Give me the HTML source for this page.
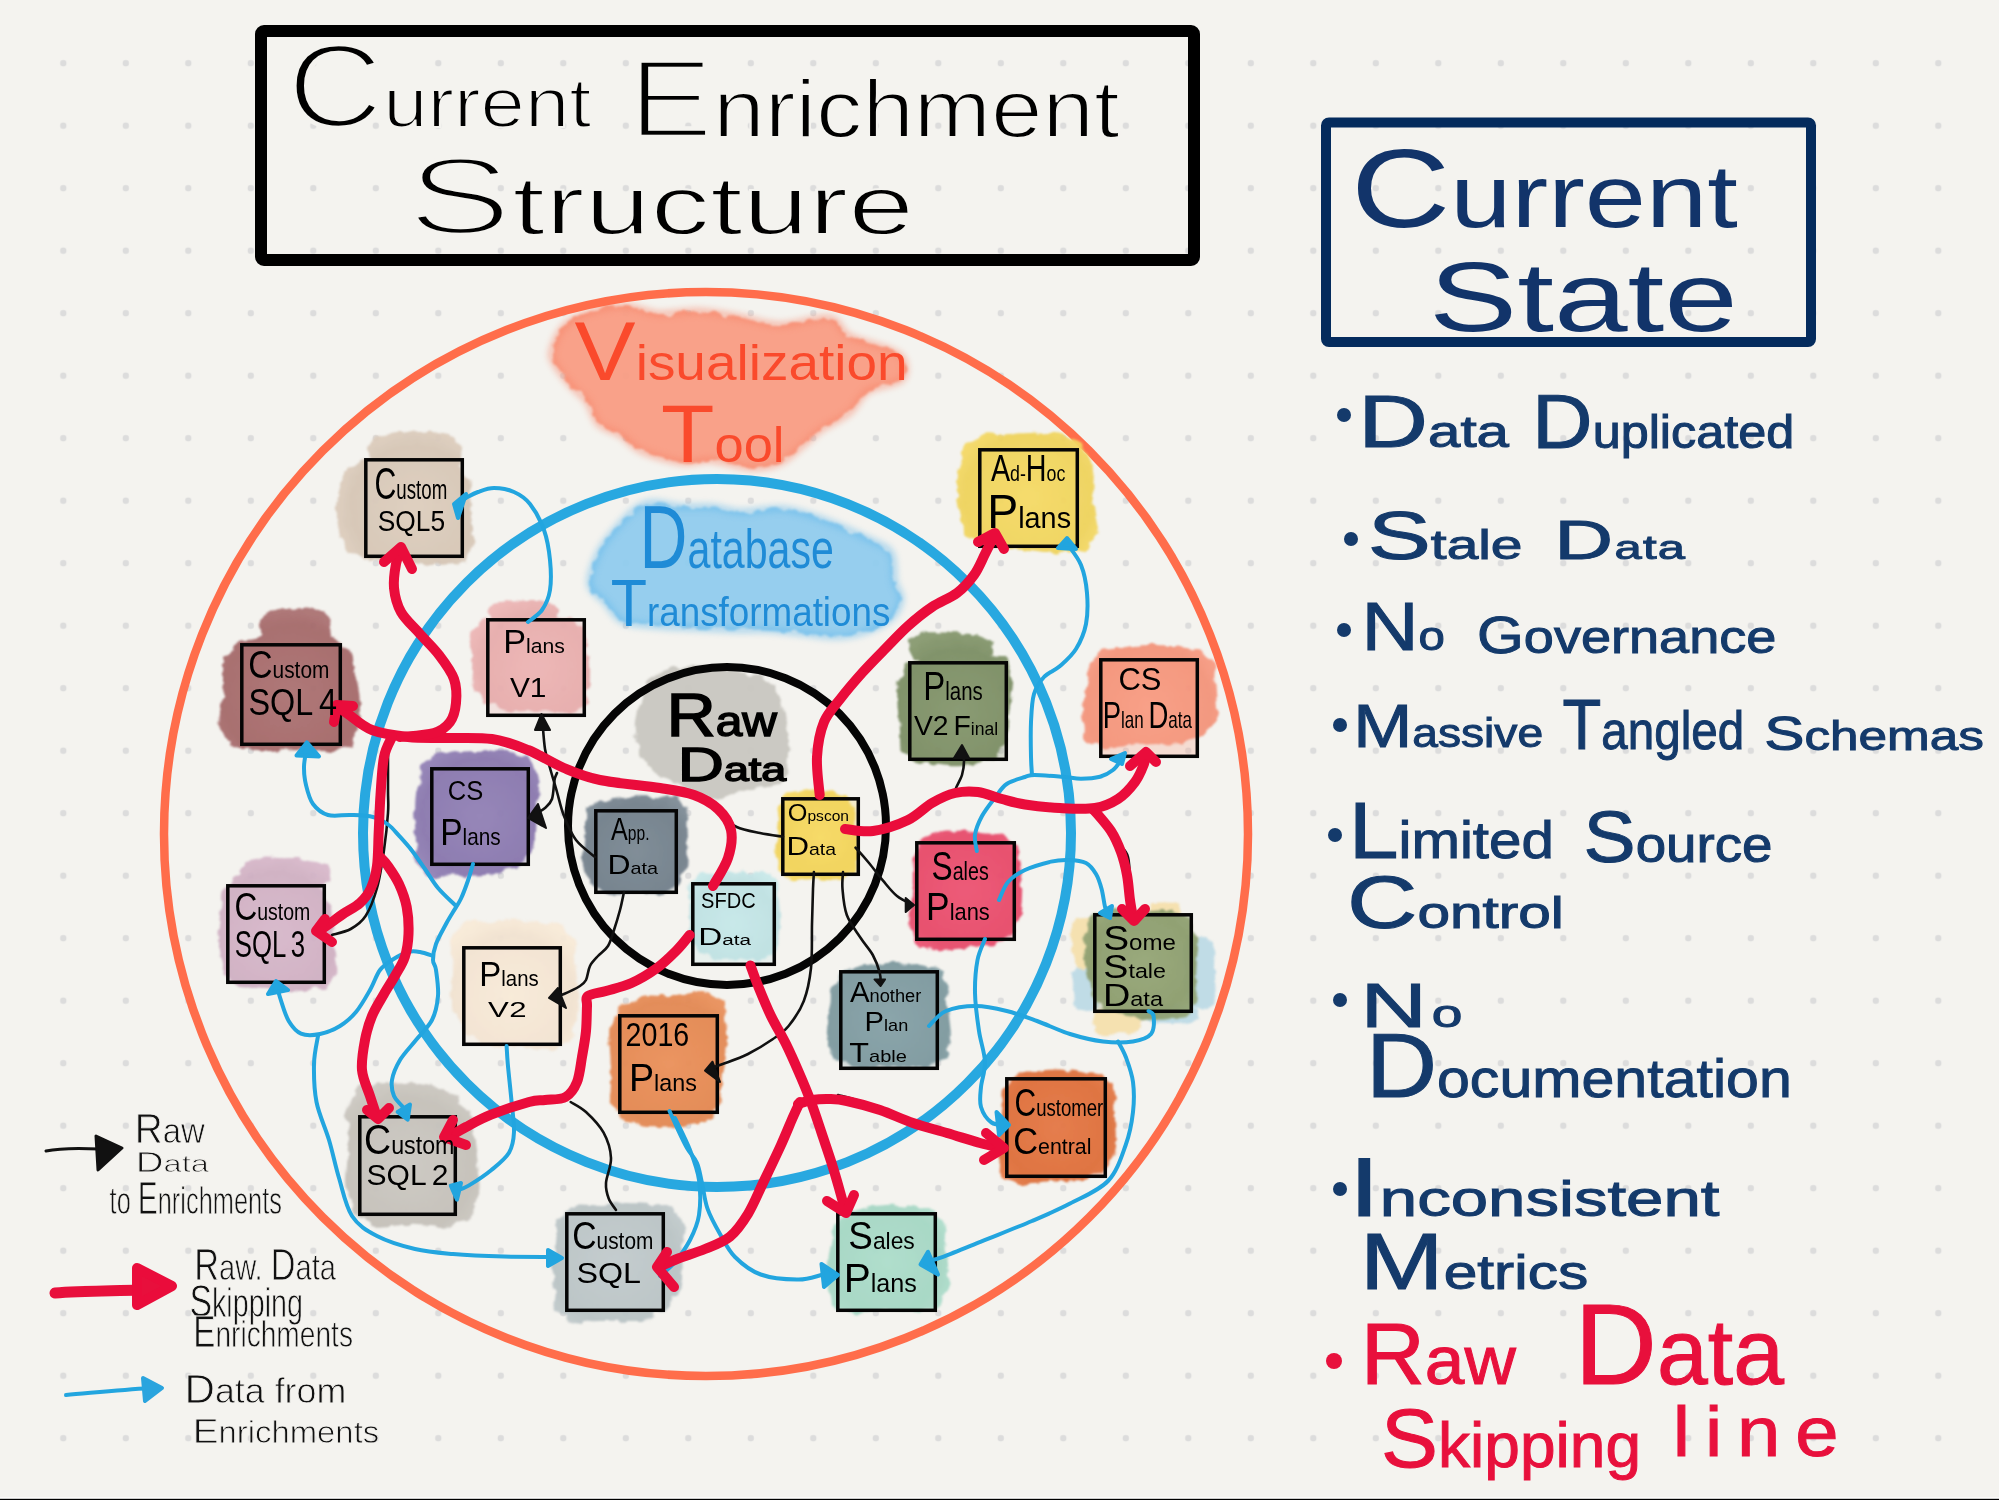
<!DOCTYPE html><html><head><meta charset="utf-8"><style>html,body{margin:0;padding:0;background:#f4f3ef;overflow:hidden}svg{display:block}text{font-family:"Liberation Sans",sans-serif}</style></head><body>
<svg width="1999" height="1500" viewBox="0 0 1999 1500">
<defs>
<pattern id="dots" x="0.8" y="0.7" width="62.5" height="62.5" patternUnits="userSpaceOnUse">
<circle cx="0" cy="0" r="3.2" fill="#dcdcdc"/><circle cx="62.5" cy="0" r="3.2" fill="#dcdcdc"/>
<circle cx="0" cy="62.5" r="3.2" fill="#dcdcdc"/><circle cx="62.5" cy="62.5" r="3.2" fill="#dcdcdc"/>
</pattern>
<filter id="wc" x="-20%" y="-20%" width="140%" height="140%">
<feTurbulence type="fractalNoise" baseFrequency="0.06" numOctaves="3" seed="3" result="n"/>
<feDisplacementMap in="SourceGraphic" in2="n" scale="14" xChannelSelector="R" yChannelSelector="G" result="d"/>
<feGaussianBlur in="d" stdDeviation="1.2"/>
</filter>
<filter id="wc2" x="-20%" y="-20%" width="140%" height="140%">
<feTurbulence type="fractalNoise" baseFrequency="0.035" numOctaves="3" seed="7" result="n"/>
<feDisplacementMap in="SourceGraphic" in2="n" scale="22" xChannelSelector="R" yChannelSelector="G" result="d"/>
<feGaussianBlur in="d" stdDeviation="1.5"/>
</filter>
<filter id="wcb" x="-10%" y="-10%" width="120%" height="120%">
<feTurbulence type="fractalNoise" baseFrequency="0.09" numOctaves="2" seed="5" result="n"/>
<feDisplacementMap in="SourceGraphic" in2="n" scale="9" xChannelSelector="R" yChannelSelector="G" result="d"/>
<feGaussianBlur in="d" stdDeviation="1.3"/>
</filter>
<filter id="wcs" x="-10%" y="-10%" width="120%" height="120%">
<feTurbulence type="fractalNoise" baseFrequency="0.1" numOctaves="2" seed="9" result="n"/>
<feDisplacementMap in="SourceGraphic" in2="n" scale="7" xChannelSelector="R" yChannelSelector="G" result="d"/>
<feGaussianBlur in="d" stdDeviation="1.2"/>
</filter>
<filter id="rim" x="-10%" y="-10%" width="120%" height="120%"><feGaussianBlur stdDeviation="3"/></filter>
<filter id="er2" x="-5%" y="-5%" width="110%" height="110%"><feMorphology operator="erode" radius="2"/></filter>
<filter id="er1" x="-5%" y="-5%" width="110%" height="110%"><feMorphology operator="erode" radius="1"/></filter>
</defs>
<rect width="1999" height="1500" fill="#f4f3ef"/>
<rect x="31" y="31" width="1959" height="1459" fill="url(#dots)"/>
<rect x="0" y="1497.4" width="1999" height="1.4" fill="#ffffff"/><rect x="0" y="1498.8" width="1999" height="1.2" fill="#000"/>
<rect x="261" y="31" width="933" height="229" rx="3" fill="none" stroke="#000" stroke-width="12"/>
<rect x="1326" y="122.5" width="485" height="219.5" rx="3" fill="none" stroke="#042b5d" stroke-width="10"/>
<g filter="url(#wcb)">
<path d="M552.0,350.0 C553.8,343.6 558.7,331.5 565.5,325.0 C572.3,318.5 582.9,314.2 593.0,311.0 C603.1,307.8 615.0,305.5 626.0,306.0 C637.0,306.5 647.1,313.2 659.0,314.0 C670.9,314.8 684.3,310.5 697.6,311.0 C710.9,311.5 725.3,314.7 739.0,317.0 C752.7,319.3 764.9,324.8 780.0,325.0 C795.1,325.2 818.1,316.2 829.6,318.0 C841.1,319.8 838.9,330.7 849.0,336.0 C859.1,341.3 880.8,345.8 890.0,350.0 C899.2,354.2 902.2,356.0 904.0,361.0 C905.8,366.0 907.0,375.0 901.0,380.0 C895.0,385.0 876.7,385.5 868.0,391.0 C859.3,396.5 856.8,406.6 849.0,413.0 C841.2,419.4 828.8,424.1 821.0,429.6 C813.2,435.1 808.8,440.5 802.0,446.0 C795.2,451.5 788.2,458.9 780.0,462.6 C771.8,466.3 764.1,468.4 752.6,468.0 C741.1,467.6 722.4,460.9 711.0,460.0 C699.6,459.1 695.4,464.0 684.0,462.6 C672.6,461.2 653.2,456.2 642.6,451.6 C632.0,447.0 627.9,439.6 620.6,435.0 C613.3,430.4 604.1,429.5 598.6,424.0 C593.1,418.5 592.1,408.4 587.5,402.0 C582.9,395.6 576.5,391.9 571.0,385.5 C565.5,379.1 557.7,369.4 554.5,363.5 C551.3,357.6 550.2,356.4 552.0,350.0Z" fill="#f99a80" opacity="0.92"/>
<path d="M590.0,585.0 C588.6,577.4 593.0,565.5 597.0,556.5 C601.0,547.5 606.1,539.8 614.0,531.0 C621.9,522.2 633.3,508.0 644.6,504.0 C655.9,500.0 670.7,506.5 682.0,507.0 C693.3,507.5 702.7,506.2 712.6,507.0 C722.5,507.8 729.7,511.7 741.6,512.0 C753.5,512.3 769.8,507.5 784.0,509.0 C798.2,510.5 812.4,515.9 826.6,521.0 C840.8,526.1 858.3,534.2 869.0,539.5 C879.7,544.8 886.7,545.9 891.0,553.0 C895.3,560.1 892.9,574.3 894.6,582.0 C896.3,589.7 901.9,592.8 901.0,599.0 C900.1,605.2 896.2,613.8 889.5,619.5 C882.8,625.2 869.7,630.2 860.6,633.0 C851.5,635.8 844.9,636.5 835.0,636.5 C825.1,636.5 812.3,634.1 801.0,633.0 C789.7,631.9 778.3,630.2 767.0,629.7 C755.7,629.2 744.3,630.0 733.0,629.7 C721.7,629.4 711.8,628.6 699.0,628.0 C686.2,627.4 669.2,627.2 656.5,626.0 C643.8,624.8 631.0,624.9 622.5,621.0 C614.0,617.1 610.9,608.4 605.5,602.4 C600.1,596.4 591.4,592.6 590.0,585.0Z" fill="#8dcbee" opacity="0.92"/>
<path d="M643.0,696.7 C646.2,690.2 647.2,680.8 655.0,675.7 C662.8,670.6 676.4,666.8 690.0,666.0 C703.6,665.2 723.1,667.8 736.7,671.0 C750.3,674.2 763.6,676.8 771.7,685.0 C779.9,693.2 782.9,708.3 785.6,720.0 C788.3,731.7 788.8,744.9 788.0,755.0 C787.2,765.1 787.7,774.9 781.0,780.7 C774.3,786.5 759.3,787.0 748.0,790.0 C736.7,793.0 724.2,799.8 713.0,799.0 C701.8,798.2 691.5,790.4 680.7,785.0 C669.9,779.6 655.5,774.4 648.0,766.7 C640.5,759.0 638.0,747.3 636.0,738.7 C634.0,730.1 634.8,722.0 636.0,715.0 C637.2,708.0 639.8,703.2 643.0,696.7Z" fill="#c8c6c0" opacity="0.95"/>
</g>
<g filter="url(#rim)" opacity="0.5">
<path d="M552.0,350.0 C553.8,343.6 558.7,331.5 565.5,325.0 C572.3,318.5 582.9,314.2 593.0,311.0 C603.1,307.8 615.0,305.5 626.0,306.0 C637.0,306.5 647.1,313.2 659.0,314.0 C670.9,314.8 684.3,310.5 697.6,311.0 C710.9,311.5 725.3,314.7 739.0,317.0 C752.7,319.3 764.9,324.8 780.0,325.0 C795.1,325.2 818.1,316.2 829.6,318.0 C841.1,319.8 838.9,330.7 849.0,336.0 C859.1,341.3 880.8,345.8 890.0,350.0 C899.2,354.2 902.2,356.0 904.0,361.0 C905.8,366.0 907.0,375.0 901.0,380.0 C895.0,385.0 876.7,385.5 868.0,391.0 C859.3,396.5 856.8,406.6 849.0,413.0 C841.2,419.4 828.8,424.1 821.0,429.6 C813.2,435.1 808.8,440.5 802.0,446.0 C795.2,451.5 788.2,458.9 780.0,462.6 C771.8,466.3 764.1,468.4 752.6,468.0 C741.1,467.6 722.4,460.9 711.0,460.0 C699.6,459.1 695.4,464.0 684.0,462.6 C672.6,461.2 653.2,456.2 642.6,451.6 C632.0,447.0 627.9,439.6 620.6,435.0 C613.3,430.4 604.1,429.5 598.6,424.0 C593.1,418.5 592.1,408.4 587.5,402.0 C582.9,395.6 576.5,391.9 571.0,385.5 C565.5,379.1 557.7,369.4 554.5,363.5 C551.3,357.6 550.2,356.4 552.0,350.0Z" fill="none" stroke="#f77f62" stroke-width="6"/>
<path d="M590.0,585.0 C588.6,577.4 593.0,565.5 597.0,556.5 C601.0,547.5 606.1,539.8 614.0,531.0 C621.9,522.2 633.3,508.0 644.6,504.0 C655.9,500.0 670.7,506.5 682.0,507.0 C693.3,507.5 702.7,506.2 712.6,507.0 C722.5,507.8 729.7,511.7 741.6,512.0 C753.5,512.3 769.8,507.5 784.0,509.0 C798.2,510.5 812.4,515.9 826.6,521.0 C840.8,526.1 858.3,534.2 869.0,539.5 C879.7,544.8 886.7,545.9 891.0,553.0 C895.3,560.1 892.9,574.3 894.6,582.0 C896.3,589.7 901.9,592.8 901.0,599.0 C900.1,605.2 896.2,613.8 889.5,619.5 C882.8,625.2 869.7,630.2 860.6,633.0 C851.5,635.8 844.9,636.5 835.0,636.5 C825.1,636.5 812.3,634.1 801.0,633.0 C789.7,631.9 778.3,630.2 767.0,629.7 C755.7,629.2 744.3,630.0 733.0,629.7 C721.7,629.4 711.8,628.6 699.0,628.0 C686.2,627.4 669.2,627.2 656.5,626.0 C643.8,624.8 631.0,624.9 622.5,621.0 C614.0,617.1 610.9,608.4 605.5,602.4 C600.1,596.4 591.4,592.6 590.0,585.0Z" fill="none" stroke="#5bb5ea" stroke-width="6"/>
</g>
<circle cx="706" cy="834" r="542" fill="none" stroke="#ff6d4b" stroke-width="8.5"/>
<circle cx="717" cy="833" r="354" fill="none" stroke="#28a8e0" stroke-width="10"/>
<circle cx="727" cy="826" r="159" fill="none" stroke="#050505" stroke-width="8"/>
<defs><radialGradient id="bg0" gradientUnits="userSpaceOnUse" cx="414.0" cy="508.0" r="82.8"><stop offset="0" stop-color="#decfc0"/><stop offset="0.75" stop-color="#d5c5b5"/><stop offset="1" stop-color="#decebf"/></radialGradient><radialGradient id="bg1" gradientUnits="userSpaceOnUse" cx="291.0" cy="694.5" r="91.2"><stop offset="0" stop-color="#ae7576"/><stop offset="0.75" stop-color="#a36869"/><stop offset="1" stop-color="#ad7475"/></radialGradient><radialGradient id="bg2" gradientUnits="userSpaceOnUse" cx="276.0" cy="934.0" r="81.6"><stop offset="0" stop-color="#d8b9cc"/><stop offset="0.75" stop-color="#cfafc2"/><stop offset="1" stop-color="#d8b8cb"/></radialGradient><radialGradient id="bg3" gradientUnits="userSpaceOnUse" cx="407.5" cy="1165.5" r="87.6"><stop offset="0" stop-color="#cdc9c3"/><stop offset="0.75" stop-color="#c3bfb8"/><stop offset="1" stop-color="#ccc8c2"/></radialGradient><radialGradient id="bg4" gradientUnits="userSpaceOnUse" cx="615.0" cy="1262.0" r="81.6"><stop offset="0" stop-color="#c3ccce"/><stop offset="0.75" stop-color="#b8c2c4"/><stop offset="1" stop-color="#c2cbcd"/></radialGradient><radialGradient id="bg5" gradientUnits="userSpaceOnUse" cx="886.5" cy="1262.0" r="71.4"><stop offset="0" stop-color="#afdecd"/><stop offset="0.75" stop-color="#a4d5c3"/><stop offset="1" stop-color="#aedecc"/></radialGradient><radialGradient id="bg6" gradientUnits="userSpaceOnUse" cx="536.0" cy="667.5" r="72.6"><stop offset="0" stop-color="#edb6b6"/><stop offset="0.75" stop-color="#e5acac"/><stop offset="1" stop-color="#edb6b6"/></radialGradient><radialGradient id="bg7" gradientUnits="userSpaceOnUse" cx="480.0" cy="816.5" r="78.0"><stop offset="0" stop-color="#9483b7"/><stop offset="0.75" stop-color="#8876ad"/><stop offset="1" stop-color="#9382b7"/></radialGradient><radialGradient id="bg8" gradientUnits="userSpaceOnUse" cx="512.0" cy="996.0" r="80.4"><stop offset="0" stop-color="#f8ebd9"/><stop offset="0.75" stop-color="#f1e2d0"/><stop offset="1" stop-color="#f8ead8"/></radialGradient><radialGradient id="bg9" gradientUnits="userSpaceOnUse" cx="668.5" cy="1064.0" r="82.8"><stop offset="0" stop-color="#eb925e"/><stop offset="0.75" stop-color="#e28650"/><stop offset="1" stop-color="#ea915c"/></radialGradient><radialGradient id="bg10" gradientUnits="userSpaceOnUse" cx="636.0" cy="851.5" r="63.0"><stop offset="0" stop-color="#7e8b96"/><stop offset="0.75" stop-color="#717e8a"/><stop offset="1" stop-color="#7c8a95"/></radialGradient><radialGradient id="bg11" gradientUnits="userSpaceOnUse" cx="820.5" cy="836.5" r="53.4"><stop offset="0" stop-color="#f7da66"/><stop offset="0.75" stop-color="#efd157"/><stop offset="1" stop-color="#f7d964"/></radialGradient><radialGradient id="bg12" gradientUnits="userSpaceOnUse" cx="733.5" cy="924.0" r="57.6"><stop offset="0" stop-color="#c7e8ea"/><stop offset="0.75" stop-color="#bddfe1"/><stop offset="1" stop-color="#c7e8e9"/></radialGradient><radialGradient id="bg13" gradientUnits="userSpaceOnUse" cx="958.0" cy="711.0" r="81.0"><stop offset="0" stop-color="#879971"/><stop offset="0.75" stop-color="#7a8d63"/><stop offset="1" stop-color="#86986f"/></radialGradient><radialGradient id="bg14" gradientUnits="userSpaceOnUse" cx="965.5" cy="891.0" r="75.0"><stop offset="0" stop-color="#ed5776"/><stop offset="0.75" stop-color="#e54869"/><stop offset="1" stop-color="#ed5575"/></radialGradient><radialGradient id="bg15" gradientUnits="userSpaceOnUse" cx="889.0" cy="1020.0" r="79.8"><stop offset="0" stop-color="#88a3a9"/><stop offset="0.75" stop-color="#7b979d"/><stop offset="1" stop-color="#87a2a8"/></radialGradient><radialGradient id="bg16" gradientUnits="userSpaceOnUse" cx="1028.5" cy="498.0" r="84.0"><stop offset="0" stop-color="#f6db69"/><stop offset="0.75" stop-color="#eed25b"/><stop offset="1" stop-color="#f6da68"/></radialGradient><radialGradient id="bg17" gradientUnits="userSpaceOnUse" cx="1149.0" cy="708.0" r="82.8"><stop offset="0" stop-color="#f99e86"/><stop offset="0.75" stop-color="#f29279"/><stop offset="1" stop-color="#f99d85"/></radialGradient><radialGradient id="bg18" gradientUnits="userSpaceOnUse" cx="1143.0" cy="963.0" r="68.4"><stop offset="0" stop-color="#97a87a"/><stop offset="0.75" stop-color="#8b9c6d"/><stop offset="1" stop-color="#96a779"/></radialGradient><radialGradient id="bg19" gradientUnits="userSpaceOnUse" cx="1056.0" cy="1127.5" r="72.0"><stop offset="0" stop-color="#e57b4a"/><stop offset="0.75" stop-color="#dc6e3a"/><stop offset="1" stop-color="#e57a48"/></radialGradient></defs>
<g filter="url(#wcs)" opacity="0.8">
<path d="M1101.7,943.5 C1101.7,947.3 1102.0,952.2 1102.0,954.9 C1102.1,957.5 1102.1,958.4 1101.8,959.6 C1101.6,960.8 1101.0,961.3 1100.7,962.1 C1100.4,962.9 1100.1,963.5 1099.9,964.3 C1099.6,965.2 1099.7,966.4 1099.4,967.1 C1099.1,967.8 1098.7,968.2 1098.2,968.4 C1097.7,968.7 1097.0,968.4 1096.4,968.6 C1095.9,968.9 1095.5,969.5 1094.9,969.9 C1094.3,970.4 1094.1,971.1 1092.8,971.2 C1091.5,971.3 1088.9,970.7 1087.0,970.5 C1085.1,970.2 1082.9,969.6 1081.6,969.5 C1080.2,969.4 1079.8,969.8 1079.1,969.8 C1078.4,969.7 1077.9,969.5 1077.4,968.9 C1077.0,968.4 1076.9,967.2 1076.6,966.6 C1076.3,965.9 1076.0,965.5 1075.6,965.1 C1075.3,964.6 1074.6,964.6 1074.3,964.0 C1074.0,963.5 1073.9,962.5 1073.7,961.5 C1073.6,960.5 1073.7,959.3 1073.5,958.1 C1073.3,956.9 1072.9,956.8 1072.6,954.4 C1072.3,952.0 1071.9,947.2 1071.8,943.5 C1071.7,939.8 1071.9,934.8 1072.0,932.2 C1072.1,929.5 1072.3,929.0 1072.3,927.6 C1072.3,926.1 1072.1,924.5 1072.1,923.4 C1072.2,922.2 1072.5,921.2 1072.8,920.6 C1073.2,919.9 1073.9,920.0 1074.4,919.6 C1074.9,919.2 1075.3,918.8 1075.7,918.3 C1076.1,917.9 1076.4,917.1 1077.0,916.9 C1077.6,916.7 1078.4,917.1 1079.2,917.4 C1080.0,917.6 1080.4,918.3 1081.8,918.4 C1083.1,918.5 1085.2,918.1 1087.0,918.0 C1088.8,917.9 1091.2,917.6 1092.4,917.8 C1093.6,918.0 1093.7,918.8 1094.3,919.2 C1094.9,919.5 1095.3,919.8 1095.9,919.9 C1096.5,919.9 1097.2,919.4 1097.8,919.5 C1098.3,919.6 1098.8,920.0 1099.1,920.5 C1099.4,921.1 1099.5,922.1 1099.8,922.8 C1100.1,923.5 1100.5,923.9 1100.9,924.7 C1101.3,925.4 1101.8,926.0 1102.0,927.2 C1102.2,928.5 1102.1,929.4 1102.0,932.1 C1102.0,934.8 1101.8,939.7 1101.7,943.5Z" fill="#f5dca0"/>
<path d="M1141.0,1021.0 C1141.1,1022.7 1141.5,1024.9 1141.3,1026.0 C1141.1,1027.2 1140.4,1027.3 1139.8,1027.8 C1139.3,1028.2 1138.6,1028.5 1138.3,1028.9 C1137.9,1029.3 1138.0,1029.8 1137.7,1030.2 C1137.4,1030.6 1137.1,1030.9 1136.4,1031.1 C1135.8,1031.3 1134.7,1031.2 1134.0,1031.4 C1133.2,1031.5 1132.7,1031.7 1132.1,1032.0 C1131.4,1032.2 1131.1,1032.8 1130.2,1033.0 C1129.2,1033.2 1128.7,1033.3 1126.5,1033.4 C1124.3,1033.4 1120.2,1033.3 1117.0,1033.3 C1113.8,1033.4 1109.5,1033.8 1107.1,1033.9 C1104.7,1034.1 1103.7,1034.3 1102.4,1034.3 C1101.2,1034.2 1100.5,1033.9 1099.7,1033.6 C1098.8,1033.4 1098.3,1033.1 1097.5,1032.9 C1096.8,1032.7 1095.7,1032.7 1095.0,1032.4 C1094.4,1032.1 1094.0,1031.8 1093.8,1031.3 C1093.7,1030.8 1094.1,1030.0 1094.2,1029.5 C1094.2,1028.9 1094.1,1028.4 1094.0,1027.8 C1093.8,1027.2 1093.3,1027.0 1093.3,1025.9 C1093.4,1024.8 1093.8,1022.6 1094.2,1021.0 C1094.5,1019.4 1095.2,1017.6 1095.4,1016.5 C1095.6,1015.5 1095.3,1015.2 1095.2,1014.6 C1095.2,1014.0 1095.0,1013.4 1095.3,1012.9 C1095.5,1012.5 1096.3,1012.3 1096.8,1012.0 C1097.2,1011.7 1097.6,1011.5 1097.9,1011.1 C1098.2,1010.7 1098.1,1010.1 1098.5,1009.7 C1098.9,1009.3 1099.6,1009.1 1100.4,1008.9 C1101.3,1008.8 1102.5,1008.9 1103.6,1008.8 C1104.8,1008.7 1105.1,1008.5 1107.3,1008.3 C1109.5,1008.1 1113.7,1007.8 1117.0,1007.8 C1120.3,1007.7 1124.6,1008.0 1126.8,1008.2 C1129.1,1008.3 1129.3,1008.7 1130.4,1008.8 C1131.5,1008.9 1132.7,1008.8 1133.7,1008.9 C1134.6,1008.9 1135.6,1009.0 1136.2,1009.3 C1136.8,1009.6 1136.9,1010.1 1137.2,1010.5 C1137.6,1010.8 1138.0,1011.2 1138.5,1011.5 C1139.1,1011.8 1140.0,1011.9 1140.5,1012.3 C1140.9,1012.7 1141.0,1013.2 1141.1,1013.9 C1141.1,1014.5 1140.6,1014.9 1140.5,1016.1 C1140.5,1017.3 1140.8,1019.3 1141.0,1021.0Z" fill="#f5dca0"/>
<path d="M1180.0,909.5 C1180.1,910.3 1179.9,911.5 1179.7,912.0 C1179.6,912.6 1179.1,912.7 1179.0,913.0 C1178.8,913.2 1179.0,913.5 1178.9,913.8 C1178.8,914.1 1178.9,914.4 1178.6,914.5 C1178.4,914.7 1177.8,914.8 1177.4,914.9 C1177.0,915.0 1176.5,915.0 1176.1,915.1 C1175.7,915.3 1175.6,915.5 1175.1,915.6 C1174.6,915.7 1174.0,915.8 1173.3,915.8 C1172.5,915.8 1172.0,915.6 1170.6,915.6 C1169.2,915.5 1166.9,915.5 1165.0,915.5 C1163.1,915.6 1160.6,915.7 1159.4,915.6 C1158.1,915.6 1157.9,915.4 1157.4,915.3 C1156.9,915.2 1156.6,914.9 1156.2,914.8 C1155.7,914.8 1155.2,914.8 1154.7,914.7 C1154.2,914.7 1153.7,914.7 1153.3,914.6 C1153.0,914.4 1153.0,914.2 1152.8,914.0 C1152.5,913.8 1152.3,913.7 1152.0,913.5 C1151.6,913.4 1150.9,913.3 1150.6,913.1 C1150.2,912.8 1150.0,912.7 1149.9,912.1 C1149.8,911.5 1150.1,910.4 1150.0,909.5 C1150.0,908.6 1149.8,907.5 1149.7,906.9 C1149.6,906.2 1149.3,906.0 1149.4,905.7 C1149.5,905.3 1150.0,905.2 1150.4,905.0 C1150.7,904.8 1151.3,904.7 1151.6,904.6 C1152.0,904.4 1152.1,904.2 1152.4,904.0 C1152.7,903.9 1153.1,903.8 1153.7,903.7 C1154.2,903.7 1155.0,903.8 1155.7,903.8 C1156.3,903.8 1156.9,903.9 1157.5,903.8 C1158.2,903.8 1158.3,903.6 1159.5,903.5 C1160.8,903.5 1163.2,903.5 1165.0,903.6 C1166.8,903.6 1168.9,903.8 1170.2,903.8 C1171.5,903.9 1171.8,903.8 1172.6,903.7 C1173.3,903.7 1174.1,903.6 1174.6,903.6 C1175.2,903.7 1175.5,903.9 1175.8,904.0 C1176.2,904.1 1176.4,904.3 1176.8,904.4 C1177.2,904.5 1177.9,904.5 1178.2,904.6 C1178.6,904.7 1179.0,904.9 1179.1,905.1 C1179.3,905.4 1179.1,905.7 1179.1,906.0 C1179.1,906.3 1179.2,906.4 1179.4,907.0 C1179.6,907.6 1180.0,908.7 1180.0,909.5Z" fill="#f5dca0"/>
<path d="M1215.0,971.5 C1215.0,976.1 1215.2,982.0 1215.3,985.4 C1215.4,988.7 1215.6,990.0 1215.4,991.6 C1215.3,993.2 1214.8,994.1 1214.5,995.2 C1214.2,996.3 1213.9,997.0 1213.7,998.2 C1213.5,999.3 1213.6,1001.0 1213.4,1002.1 C1213.2,1003.2 1212.9,1004.2 1212.4,1004.7 C1211.9,1005.2 1211.2,1004.9 1210.6,1005.3 C1210.0,1005.6 1209.5,1006.3 1208.8,1006.8 C1208.1,1007.4 1208.0,1008.6 1206.5,1008.8 C1205.0,1009.0 1202.1,1008.4 1200.0,1008.0 C1197.9,1007.6 1195.4,1006.5 1194.0,1006.2 C1192.5,1005.8 1192.2,1006.0 1191.4,1005.8 C1190.7,1005.5 1190.1,1005.4 1189.6,1004.6 C1189.2,1003.8 1189.2,1002.2 1188.9,1001.2 C1188.7,1000.1 1188.5,999.1 1188.2,998.4 C1187.9,997.6 1187.3,997.5 1187.0,996.8 C1186.7,996.0 1186.5,994.9 1186.4,993.7 C1186.3,992.4 1186.5,990.8 1186.3,989.3 C1186.2,987.8 1185.8,987.6 1185.5,984.6 C1185.2,981.7 1184.7,976.0 1184.5,971.5 C1184.3,967.0 1184.4,960.7 1184.5,957.4 C1184.5,954.1 1184.8,953.5 1184.7,951.7 C1184.7,949.8 1184.4,947.8 1184.4,946.2 C1184.4,944.5 1184.5,942.9 1184.8,941.9 C1185.1,940.9 1185.8,940.7 1186.3,940.1 C1186.7,939.6 1187.2,939.1 1187.6,938.4 C1188.1,937.8 1188.3,936.5 1188.9,936.1 C1189.5,935.7 1190.3,935.8 1191.1,936.0 C1192.0,936.3 1192.6,937.3 1194.1,937.5 C1195.6,937.8 1198.0,937.5 1200.0,937.5 C1202.0,937.4 1204.6,936.9 1206.0,937.2 C1207.3,937.4 1207.5,938.5 1208.1,939.1 C1208.7,939.7 1209.0,940.6 1209.6,940.9 C1210.1,941.3 1210.8,940.8 1211.4,941.1 C1211.9,941.3 1212.4,941.7 1212.7,942.5 C1213.0,943.3 1213.0,944.8 1213.2,945.8 C1213.4,946.8 1213.7,947.6 1214.1,948.6 C1214.4,949.6 1215.0,950.2 1215.2,951.7 C1215.4,953.2 1215.4,954.2 1215.4,957.5 C1215.3,960.8 1215.0,966.9 1215.0,971.5Z" fill="#b3d6e4"/>
<path d="M1096.7,990.0 C1096.8,992.7 1097.2,996.3 1097.3,998.3 C1097.5,1000.4 1097.8,1001.2 1097.8,1002.3 C1097.8,1003.4 1097.4,1004.0 1097.3,1004.8 C1097.1,1005.6 1096.9,1006.2 1096.8,1007.0 C1096.6,1007.8 1096.7,1008.9 1096.5,1009.5 C1096.3,1010.1 1096.0,1010.6 1095.5,1010.9 C1095.0,1011.1 1094.3,1010.8 1093.8,1010.8 C1093.2,1010.9 1092.8,1011.1 1092.2,1011.3 C1091.6,1011.5 1091.3,1012.0 1090.2,1011.9 C1089.0,1011.9 1086.6,1011.4 1085.0,1011.0 C1083.4,1010.6 1081.5,1010.0 1080.4,1009.8 C1079.2,1009.5 1079.0,1009.8 1078.4,1009.7 C1077.8,1009.6 1077.3,1009.6 1076.9,1009.2 C1076.5,1008.9 1076.4,1008.1 1076.1,1007.6 C1075.8,1007.2 1075.6,1006.8 1075.3,1006.5 C1074.9,1006.2 1074.3,1006.3 1074.0,1005.9 C1073.7,1005.5 1073.5,1004.9 1073.3,1004.1 C1073.2,1003.3 1073.3,1002.3 1073.2,1001.4 C1073.1,1000.4 1072.9,1000.2 1072.7,998.3 C1072.5,996.4 1072.1,992.8 1072.1,990.0 C1072.0,987.2 1072.3,983.5 1072.4,981.5 C1072.6,979.6 1072.9,979.4 1073.0,978.4 C1073.0,977.4 1072.9,976.3 1072.9,975.4 C1073.0,974.6 1073.1,973.7 1073.3,973.2 C1073.6,972.6 1074.1,972.6 1074.5,972.2 C1074.8,971.8 1075.1,971.4 1075.4,970.9 C1075.7,970.4 1075.8,969.4 1076.2,969.0 C1076.6,968.6 1077.1,968.5 1077.7,968.5 C1078.4,968.4 1078.8,968.8 1080.0,968.8 C1081.2,968.7 1083.3,968.4 1085.0,968.2 C1086.7,968.1 1089.0,967.7 1090.2,967.9 C1091.4,968.1 1091.5,968.8 1092.0,969.3 C1092.5,969.7 1092.7,970.4 1093.1,970.7 C1093.5,971.0 1094.1,971.0 1094.4,971.3 C1094.8,971.7 1095.0,972.1 1095.2,972.8 C1095.3,973.4 1095.2,974.5 1095.3,975.2 C1095.4,975.9 1095.5,976.4 1095.7,977.0 C1096.0,977.6 1096.4,978.0 1096.6,978.8 C1096.8,979.7 1096.8,980.2 1096.8,982.1 C1096.8,983.9 1096.6,987.3 1096.7,990.0Z" fill="#b3d6e4"/>
<path d="M1197.8,1014.5 C1197.9,1015.7 1198.6,1017.3 1198.7,1018.1 C1198.8,1019.0 1198.9,1019.2 1198.5,1019.6 C1198.2,1020.0 1197.1,1020.2 1196.6,1020.5 C1196.1,1020.8 1195.7,1021.1 1195.5,1021.4 C1195.2,1021.7 1195.4,1022.1 1194.9,1022.4 C1194.5,1022.7 1193.6,1022.8 1192.7,1022.9 C1191.8,1023.0 1190.5,1023.0 1189.5,1023.1 C1188.5,1023.3 1187.9,1023.6 1186.6,1023.7 C1185.4,1023.9 1185.0,1024.2 1182.3,1024.3 C1179.5,1024.3 1174.0,1024.1 1170.0,1024.1 C1166.0,1024.0 1161.1,1023.8 1158.3,1023.8 C1155.5,1023.8 1154.6,1023.9 1153.2,1023.9 C1151.7,1023.8 1150.6,1023.7 1149.9,1023.4 C1149.1,1023.2 1149.0,1022.8 1148.5,1022.5 C1148.0,1022.2 1147.5,1022.0 1146.9,1021.8 C1146.3,1021.6 1145.3,1021.5 1144.9,1021.3 C1144.6,1021.0 1144.7,1020.6 1144.7,1020.2 C1144.7,1019.9 1145.1,1019.4 1144.9,1019.0 C1144.7,1018.6 1143.9,1018.6 1143.5,1017.8 C1143.1,1017.1 1142.4,1015.6 1142.2,1014.5 C1142.1,1013.4 1142.7,1011.9 1142.7,1011.1 C1142.8,1010.2 1142.9,1010.1 1142.7,1009.6 C1142.6,1009.1 1141.8,1008.5 1141.7,1008.1 C1141.7,1007.7 1141.9,1007.3 1142.4,1007.0 C1142.9,1006.8 1144.0,1006.7 1144.7,1006.5 C1145.3,1006.3 1145.8,1006.0 1146.4,1005.7 C1147.1,1005.5 1147.6,1005.2 1148.7,1005.0 C1149.8,1004.9 1151.4,1005.0 1153.0,1005.0 C1154.6,1005.1 1155.6,1005.3 1158.4,1005.3 C1161.3,1005.3 1166.1,1005.2 1170.0,1005.2 C1173.9,1005.2 1179.0,1005.1 1181.6,1005.3 C1184.2,1005.4 1184.3,1005.8 1185.4,1005.9 C1186.5,1006.1 1187.3,1006.3 1188.3,1006.4 C1189.3,1006.5 1190.7,1006.4 1191.6,1006.5 C1192.4,1006.6 1193.0,1006.8 1193.5,1007.1 C1194.0,1007.3 1193.9,1007.7 1194.3,1007.9 C1194.8,1008.2 1195.6,1008.3 1196.2,1008.6 C1196.9,1008.8 1197.9,1009.0 1198.2,1009.4 C1198.5,1009.8 1198.2,1010.1 1198.1,1011.0 C1198.0,1011.8 1197.7,1013.3 1197.8,1014.5Z" fill="#b3d6e4"/>
</g>
<g filter="url(#wcs)">
<g opacity="0.94">
<path d="M470.5,511.5 C471.0,518.8 472.8,528.4 473.4,533.8 C474.1,539.2 474.9,541.2 474.4,543.9 C474.0,546.6 471.9,548.0 470.8,549.9 C469.7,551.8 468.6,553.3 467.8,555.2 C466.9,557.0 467.1,559.6 465.7,561.0 C464.3,562.4 462.0,563.1 459.5,563.4 C456.9,563.7 453.3,562.8 450.5,562.9 C447.7,563.0 445.5,563.7 442.5,564.0 C439.5,564.4 438.2,565.4 432.3,565.1 C426.4,564.9 415.0,563.4 407.0,562.5 C399.0,561.7 389.6,560.3 384.1,560.0 C378.6,559.6 376.9,560.6 373.9,560.5 C370.9,560.5 368.2,560.5 366.1,559.8 C364.1,559.1 363.4,557.2 361.7,556.3 C360.0,555.5 358.2,555.0 356.0,554.5 C353.8,554.1 350.4,554.4 348.5,553.5 C346.6,552.6 345.6,550.9 344.7,549.0 C343.8,547.1 344.2,544.6 343.3,542.1 C342.5,539.6 340.6,539.2 339.5,534.1 C338.5,529.0 336.9,519.0 336.9,511.5 C336.9,504.0 338.6,494.0 339.5,488.8 C340.4,483.7 341.9,483.1 342.5,480.5 C343.1,477.9 342.5,475.1 343.2,473.1 C343.9,471.1 345.1,469.3 346.9,468.3 C348.6,467.2 351.8,467.4 353.8,466.6 C355.8,465.9 357.2,464.9 358.8,463.8 C360.4,462.7 361.2,460.7 363.4,460.0 C365.5,459.2 368.6,459.4 371.8,459.4 C375.0,459.5 376.9,460.4 382.8,460.2 C388.6,460.0 398.7,458.8 407.0,458.3 C415.3,457.8 426.8,457.0 432.6,457.3 C438.3,457.6 439.0,459.3 441.7,460.2 C444.3,461.1 446.0,462.1 448.4,462.6 C450.8,463.1 453.9,462.5 455.9,463.2 C457.9,463.8 459.4,465.0 460.4,466.5 C461.4,467.9 461.0,470.5 461.8,472.1 C462.7,473.7 464.1,474.8 465.5,476.3 C466.9,477.8 469.3,478.8 470.2,481.1 C471.0,483.4 470.7,485.0 470.7,490.1 C470.8,495.2 470.1,504.2 470.5,511.5Z" fill="url(#bg0)"/>
<path d="M461.3,452.5 C461.2,454.2 461.5,456.2 461.7,457.7 C462.0,459.2 462.9,460.5 462.6,461.7 C462.3,462.9 461.1,463.8 460.0,464.8 C459.0,465.7 457.3,466.3 456.2,467.2 C455.2,468.1 454.8,469.2 453.6,470.0 C452.5,470.9 451.2,471.8 449.3,472.3 C447.5,472.8 444.7,472.7 442.4,472.9 C440.1,473.1 437.8,473.2 435.4,473.4 C433.0,473.7 431.1,474.3 428.1,474.4 C425.0,474.5 420.5,474.3 417.0,473.9 C413.5,473.6 409.8,472.7 407.0,472.4 C404.1,472.0 402.3,471.9 400.1,471.7 C397.9,471.5 395.5,471.6 393.8,471.2 C392.0,470.8 390.8,470.0 389.4,469.4 C388.1,468.8 387.2,468.0 385.7,467.5 C384.1,467.0 381.8,466.8 380.1,466.3 C378.4,465.8 376.6,465.2 375.5,464.3 C374.4,463.5 374.4,462.3 373.7,461.2 C373.0,460.1 372.2,459.3 371.3,457.8 C370.4,456.3 368.6,454.3 368.1,452.5 C367.6,450.7 367.9,448.4 368.5,446.9 C369.0,445.3 370.6,444.5 371.4,443.3 C372.2,442.2 372.4,441.0 373.2,440.0 C373.9,439.0 374.4,437.8 375.8,437.1 C377.2,436.3 379.7,436.0 381.7,435.6 C383.7,435.2 385.9,435.0 387.7,434.5 C389.5,434.1 390.7,433.3 392.5,432.8 C394.4,432.4 396.5,432.0 398.9,431.9 C401.3,431.9 403.8,432.3 406.8,432.4 C409.8,432.4 413.5,432.3 417.0,432.1 C420.5,432.0 424.7,431.4 427.7,431.4 C430.6,431.4 432.7,431.8 434.9,432.2 C437.0,432.6 438.4,433.3 440.4,433.7 C442.3,434.1 444.5,434.1 446.5,434.5 C448.4,434.8 450.6,435.1 452.0,435.7 C453.3,436.4 453.8,437.5 454.6,438.4 C455.4,439.3 455.9,440.2 456.9,441.1 C458.0,442.0 459.8,442.7 460.7,443.7 C461.6,444.7 462.2,445.8 462.3,447.2 C462.4,448.7 461.4,450.8 461.3,452.5Z" fill="url(#bg0)"/>
</g>
<g opacity="0.94">
<path d="M359.4,695.0 C360.1,703.3 360.2,714.8 359.7,720.7 C359.2,726.5 357.2,727.2 356.4,730.1 C355.7,733.0 355.7,735.6 355.2,738.1 C354.7,740.6 354.8,743.5 353.4,745.1 C352.0,746.7 349.1,747.0 346.8,747.6 C344.4,748.1 341.4,747.8 339.1,748.4 C336.9,749.0 335.7,750.7 333.4,751.3 C331.1,752.0 328.6,752.7 325.3,752.4 C322.0,752.2 319.5,750.4 313.6,749.9 C307.7,749.4 298.0,749.2 290.0,749.4 C282.0,749.7 271.4,751.3 265.7,751.5 C260.0,751.7 258.6,751.1 255.8,750.5 C253.1,749.9 251.7,748.3 249.2,747.9 C246.8,747.5 243.9,748.1 241.2,748.1 C238.5,748.0 235.2,748.5 233.2,747.6 C231.2,746.7 230.6,744.6 229.5,742.8 C228.3,741.0 227.8,738.9 226.5,737.0 C225.1,735.1 222.5,733.9 221.4,731.2 C220.2,728.6 219.3,727.1 219.4,721.0 C219.5,715.0 221.5,703.4 222.1,695.0 C222.7,686.6 223.1,676.3 223.2,670.4 C223.4,664.5 222.5,662.5 223.2,659.7 C223.9,656.9 225.8,655.2 227.4,653.6 C229.1,652.0 231.8,651.6 233.3,650.2 C234.7,648.8 235.0,646.7 236.1,645.1 C237.3,643.5 238.0,641.4 239.9,640.6 C241.8,639.7 245.0,640.2 247.5,639.9 C250.1,639.6 252.7,639.6 255.5,638.9 C258.3,638.1 258.6,636.0 264.4,635.3 C270.1,634.6 281.6,634.3 290.0,634.7 C298.4,635.0 308.9,636.9 314.7,637.4 C320.6,638.0 321.8,637.9 325.1,638.0 C328.3,638.1 331.7,637.3 334.0,637.9 C336.3,638.5 337.6,640.3 339.0,641.8 C340.3,643.2 340.7,645.4 342.2,646.7 C343.6,647.9 346.2,648.1 347.9,649.3 C349.7,650.4 351.8,651.5 352.7,653.5 C353.6,655.6 353.0,658.6 353.4,661.5 C353.8,664.4 354.2,665.4 355.2,671.0 C356.2,676.5 358.6,686.7 359.4,695.0Z" fill="url(#bg1)"/>
<path d="M330.5,628.0 C330.3,629.7 330.4,631.6 330.5,633.1 C330.5,634.6 331.2,635.8 330.9,637.0 C330.7,638.1 329.8,639.1 328.9,639.9 C328.1,640.8 326.7,641.4 325.9,642.2 C325.0,643.0 324.6,644.0 323.8,644.8 C322.9,645.6 322.0,646.6 320.7,647.0 C319.3,647.5 317.3,647.5 315.6,647.6 C313.9,647.8 312.2,647.8 310.4,648.1 C308.7,648.3 307.4,648.9 305.1,649.0 C302.9,649.2 299.6,649.1 297.0,648.8 C294.4,648.5 291.6,647.7 289.5,647.3 C287.5,647.0 286.1,646.9 284.5,646.7 C282.8,646.6 281.0,646.7 279.6,646.4 C278.2,646.0 277.2,645.3 276.2,644.7 C275.1,644.1 274.5,643.4 273.4,642.9 C272.2,642.4 270.5,642.2 269.2,641.7 C267.9,641.2 266.4,640.6 265.6,639.8 C264.7,638.9 264.7,637.8 264.2,636.7 C263.7,635.6 263.2,634.7 262.6,633.2 C261.9,631.8 260.6,629.8 260.3,628.0 C259.9,626.2 260.1,623.9 260.5,622.4 C261.0,620.9 262.3,620.1 262.9,619.0 C263.6,617.9 263.9,616.8 264.5,615.8 C265.1,614.8 265.5,613.7 266.5,613.0 C267.6,612.3 269.4,612.0 270.9,611.6 C272.4,611.2 274.2,611.1 275.5,610.7 C276.9,610.3 277.8,609.6 279.2,609.2 C280.5,608.8 282.0,608.3 283.8,608.3 C285.5,608.2 287.3,608.6 289.5,608.6 C291.7,608.7 294.4,608.6 297.0,608.4 C299.6,608.3 302.6,607.7 304.9,607.6 C307.1,607.6 308.7,607.9 310.3,608.2 C311.9,608.5 313.0,609.2 314.5,609.6 C315.9,609.9 317.6,609.9 319.1,610.2 C320.6,610.5 322.4,610.8 323.5,611.4 C324.6,612.0 325.0,613.0 325.6,613.9 C326.3,614.8 326.6,615.8 327.4,616.6 C328.1,617.5 329.5,618.2 330.2,619.2 C330.8,620.2 331.4,621.3 331.4,622.8 C331.5,624.2 330.6,626.3 330.5,628.0Z" fill="url(#bg1)"/>
</g>
<g opacity="0.94">
<path d="M332.6,934.5 C333.1,941.9 334.8,951.6 335.6,957.2 C336.3,962.8 337.4,965.1 337.3,968.0 C337.1,970.9 335.4,972.5 334.4,974.5 C333.4,976.4 332.3,977.9 331.5,979.8 C330.7,981.7 330.9,984.4 329.7,985.9 C328.5,987.4 326.7,988.4 324.5,988.9 C322.3,989.3 319.1,988.4 316.5,988.5 C314.0,988.6 312.0,989.2 309.3,989.7 C306.6,990.3 305.7,991.6 300.3,991.6 C294.9,991.6 284.5,990.4 277.0,989.7 C269.5,988.9 260.7,987.4 255.5,987.1 C250.4,986.7 248.8,987.6 246.0,987.5 C243.2,987.5 240.5,987.6 238.7,986.8 C236.8,986.0 236.2,983.9 234.9,982.7 C233.6,981.4 232.4,980.4 230.8,979.5 C229.2,978.6 226.6,978.7 225.3,977.5 C223.9,976.3 223.2,974.4 222.8,972.2 C222.4,970.0 223.3,967.2 223.0,964.5 C222.7,961.8 221.7,961.3 220.9,956.3 C220.2,951.3 218.8,941.8 218.7,934.5 C218.6,927.2 219.9,917.6 220.5,912.6 C221.1,907.5 222.3,907.0 222.6,904.3 C222.8,901.5 221.8,898.6 221.9,896.2 C222.0,893.8 222.2,891.4 223.2,889.8 C224.2,888.2 226.5,887.8 227.9,886.6 C229.3,885.4 230.4,884.1 231.6,882.6 C232.9,881.1 233.3,878.5 235.2,877.4 C237.1,876.3 239.7,876.0 242.8,875.9 C245.8,875.9 247.8,877.0 253.5,877.0 C259.2,877.0 269.1,876.2 277.0,876.1 C284.9,875.9 295.6,875.3 300.9,876.0 C306.2,876.7 306.6,878.9 308.7,880.3 C310.8,881.7 311.9,883.5 313.6,884.5 C315.4,885.4 317.7,885.3 319.2,886.2 C320.8,887.1 322.1,888.2 322.8,889.9 C323.5,891.5 322.9,894.1 323.5,895.8 C324.1,897.5 325.1,898.7 326.4,900.1 C327.6,901.6 330.0,902.4 331.0,904.5 C332.0,906.6 332.1,908.0 332.4,913.0 C332.7,918.0 332.1,927.1 332.6,934.5Z" fill="url(#bg2)"/>
<path d="M330.0,873.5 C330.0,874.8 330.0,876.3 330.2,877.5 C330.3,878.7 331.2,879.7 330.8,880.6 C330.5,881.5 329.3,882.3 328.0,882.9 C326.7,883.5 324.5,883.9 323.0,884.4 C321.6,884.9 320.6,885.5 319.2,886.0 C317.8,886.6 316.6,887.2 314.8,887.5 C312.9,887.8 310.3,887.7 308.1,887.7 C305.9,887.8 303.6,887.7 301.5,887.8 C299.3,888.0 297.7,888.4 295.0,888.6 C292.2,888.8 288.3,888.9 285.0,888.8 C281.7,888.7 278.1,888.2 275.4,888.1 C272.6,887.9 270.8,887.9 268.6,887.8 C266.3,887.8 263.7,888.0 261.7,887.9 C259.7,887.7 258.1,887.2 256.6,886.8 C255.2,886.4 254.4,885.7 253.0,885.2 C251.6,884.8 249.8,884.5 248.3,884.0 C246.8,883.6 245.1,883.1 244.2,882.4 C243.4,881.7 243.7,880.8 243.4,879.9 C243.2,879.1 243.3,878.3 242.8,877.2 C242.4,876.2 241.0,874.8 240.7,873.5 C240.3,872.2 240.3,870.6 240.8,869.6 C241.3,868.5 242.8,867.9 243.5,867.1 C244.1,866.3 244.4,865.5 244.9,864.7 C245.3,864.0 245.2,863.0 246.1,862.3 C247.0,861.7 248.8,861.2 250.4,860.8 C252.0,860.4 254.1,860.2 255.8,859.8 C257.5,859.4 258.7,858.8 260.5,858.4 C262.3,858.0 264.2,857.6 266.6,857.5 C269.0,857.4 271.6,857.7 274.7,857.8 C277.7,858.0 281.6,858.2 285.0,858.2 C288.4,858.2 292.4,858.0 295.2,858.1 C298.0,858.2 299.9,858.5 301.8,858.9 C303.6,859.3 304.7,860.0 306.3,860.4 C307.9,860.8 309.6,860.9 311.3,861.2 C313.0,861.4 315.2,861.5 316.6,861.9 C318.0,862.3 318.8,863.0 319.7,863.5 C320.7,864.1 321.2,864.8 322.3,865.3 C323.5,865.9 325.6,866.3 326.9,867.0 C328.2,867.7 329.6,868.4 330.1,869.5 C330.6,870.6 330.0,872.2 330.0,873.5Z" fill="url(#bg2)"/>
</g>
<g opacity="0.94">
<path d="M477.2,1157.0 C478.3,1166.3 479.7,1179.6 479.6,1186.3 C479.6,1193.1 477.8,1194.2 477.0,1197.4 C476.2,1200.7 475.2,1203.0 474.7,1205.9 C474.2,1208.7 474.9,1212.4 474.0,1214.7 C473.1,1217.0 471.3,1218.6 469.3,1219.6 C467.2,1220.7 463.8,1220.1 461.5,1220.8 C459.2,1221.5 457.6,1222.9 455.4,1224.0 C453.2,1225.2 451.5,1227.3 448.3,1227.7 C445.2,1228.2 442.8,1227.1 436.5,1226.6 C430.2,1226.2 419.2,1224.8 410.5,1224.8 C401.8,1224.8 390.7,1226.3 384.5,1226.5 C378.4,1226.8 376.3,1227.1 373.5,1226.2 C370.6,1225.3 369.3,1222.7 367.4,1221.4 C365.4,1220.0 363.8,1218.8 361.8,1217.9 C359.7,1217.1 356.7,1217.4 355.1,1216.0 C353.5,1214.7 352.7,1212.4 352.2,1210.0 C351.6,1207.6 352.5,1204.1 352.0,1201.5 C351.5,1198.9 350.1,1197.2 349.1,1194.3 C348.1,1191.4 346.4,1190.5 346.1,1184.3 C345.8,1178.1 347.1,1165.9 347.5,1157.0 C347.9,1148.1 348.8,1137.2 348.6,1130.7 C348.4,1124.2 346.7,1121.8 346.4,1118.0 C346.0,1114.3 345.8,1110.9 346.5,1108.3 C347.2,1105.8 349.4,1104.6 350.5,1102.5 C351.6,1100.4 352.3,1098.2 353.1,1095.8 C353.9,1093.4 353.9,1089.9 355.4,1088.2 C357.0,1086.4 359.7,1085.7 362.5,1085.3 C365.3,1084.9 368.8,1085.8 372.3,1085.5 C375.7,1085.2 376.6,1083.9 383.0,1083.4 C389.4,1082.9 401.6,1082.1 410.5,1082.8 C419.4,1083.5 430.6,1086.1 436.4,1087.6 C442.2,1089.2 442.5,1091.1 445.2,1092.1 C448.0,1093.0 451.0,1092.5 453.1,1093.4 C455.3,1094.3 457.0,1095.6 458.2,1097.4 C459.4,1099.2 459.1,1102.3 460.1,1104.1 C461.2,1105.9 462.6,1106.9 464.3,1108.1 C466.0,1109.4 468.8,1109.8 470.1,1111.7 C471.4,1113.6 471.7,1116.4 472.2,1119.5 C472.7,1122.7 472.3,1124.2 473.1,1130.4 C473.9,1136.7 476.1,1147.7 477.2,1157.0Z" fill="url(#bg3)"/>
</g>
<g opacity="0.94">
<path d="M681.5,1261.5 C681.3,1269.2 682.5,1279.3 682.0,1284.5 C681.6,1289.8 680.5,1290.9 679.1,1293.0 C677.6,1295.1 674.7,1295.7 673.3,1297.3 C671.9,1298.8 671.4,1300.5 670.7,1302.2 C669.9,1303.9 670.1,1306.4 668.9,1307.7 C667.7,1309.0 665.4,1309.3 663.5,1310.0 C661.6,1310.7 659.3,1310.8 657.5,1312.0 C655.7,1313.1 654.9,1315.5 652.6,1317.0 C650.2,1318.5 649.4,1320.2 643.5,1320.8 C637.6,1321.4 625.9,1320.5 617.0,1320.7 C608.1,1320.8 596.8,1321.0 590.2,1321.4 C583.6,1321.9 580.8,1323.5 577.3,1323.4 C573.8,1323.4 571.2,1322.5 569.1,1321.3 C566.9,1320.1 566.2,1317.6 564.6,1316.2 C563.0,1314.8 561.0,1314.1 559.3,1312.8 C557.7,1311.6 555.5,1310.7 554.8,1308.7 C554.1,1306.7 554.8,1303.6 555.0,1300.9 C555.1,1298.2 556.0,1295.4 555.7,1292.6 C555.5,1289.8 553.8,1289.2 553.4,1284.0 C552.9,1278.9 552.5,1268.8 553.0,1261.5 C553.5,1254.2 555.5,1245.0 556.2,1240.0 C556.9,1234.9 557.1,1234.0 557.1,1231.1 C557.1,1228.3 555.8,1225.1 556.2,1222.9 C556.6,1220.7 558.0,1219.1 559.4,1217.8 C560.8,1216.5 563.2,1216.1 564.6,1214.8 C565.9,1213.5 566.3,1211.5 567.6,1210.0 C568.9,1208.4 570.0,1206.4 572.2,1205.7 C574.5,1205.0 577.9,1205.7 581.2,1205.6 C584.5,1205.6 585.9,1205.9 591.9,1205.4 C597.9,1204.9 608.4,1203.2 617.0,1202.7 C625.6,1202.2 637.4,1202.1 643.4,1202.5 C649.4,1203.0 649.9,1204.8 652.9,1205.4 C655.9,1206.0 658.5,1206.1 661.4,1206.2 C664.2,1206.3 667.7,1205.6 669.9,1206.3 C672.1,1206.9 673.4,1208.7 674.6,1210.3 C675.8,1211.9 676.0,1214.2 677.2,1215.8 C678.5,1217.5 680.7,1218.3 682.1,1220.2 C683.4,1222.0 685.0,1223.9 685.2,1226.9 C685.4,1229.9 683.8,1232.3 683.2,1238.1 C682.6,1243.8 681.7,1253.8 681.5,1261.5Z" fill="url(#bg4)"/>
</g>
<g opacity="0.94">
<path d="M947.7,1260.5 C948.3,1268.1 949.6,1278.6 949.4,1283.9 C949.2,1289.3 947.7,1290.2 946.7,1292.5 C945.6,1294.9 943.9,1296.2 943.0,1298.1 C942.2,1300.1 942.4,1302.5 941.5,1304.1 C940.5,1305.8 939.4,1307.3 937.6,1307.9 C935.8,1308.6 932.7,1307.9 930.5,1308.1 C928.3,1308.3 926.4,1308.5 924.5,1309.2 C922.5,1309.8 921.3,1311.5 918.8,1311.9 C916.3,1312.3 914.6,1312.0 909.6,1311.7 C904.5,1311.4 895.5,1310.1 888.5,1310.1 C881.5,1310.1 872.6,1311.1 867.4,1311.6 C862.2,1312.2 860.1,1313.4 857.3,1313.4 C854.5,1313.4 852.8,1312.1 850.8,1311.5 C848.8,1310.9 847.3,1310.1 845.1,1309.7 C842.9,1309.4 839.8,1310.1 837.7,1309.6 C835.6,1309.0 833.7,1308.1 832.7,1306.5 C831.6,1304.9 832.0,1302.1 831.4,1299.9 C830.8,1297.7 830.0,1295.8 829.2,1293.2 C828.4,1290.6 826.7,1289.8 826.5,1284.3 C826.3,1278.9 827.3,1268.1 828.2,1260.5 C829.1,1252.9 831.0,1243.8 831.8,1238.7 C832.6,1233.6 832.3,1232.4 832.7,1229.8 C833.2,1227.2 833.3,1224.8 834.5,1223.2 C835.6,1221.6 838.1,1221.2 839.7,1220.3 C841.2,1219.3 842.8,1218.7 843.9,1217.4 C845.0,1216.1 845.0,1213.8 846.2,1212.5 C847.4,1211.3 849.0,1210.3 851.1,1209.9 C853.2,1209.4 856.0,1210.2 858.6,1209.8 C861.2,1209.4 861.7,1208.4 866.7,1207.6 C871.7,1206.7 881.1,1205.0 888.5,1204.7 C895.9,1204.4 905.9,1205.3 911.0,1205.9 C916.1,1206.4 916.7,1207.8 919.4,1208.2 C922.1,1208.5 924.9,1207.8 927.2,1208.0 C929.6,1208.3 932.0,1208.4 933.5,1209.5 C935.0,1210.6 935.2,1212.9 936.1,1214.5 C937.1,1216.0 937.9,1217.4 939.3,1218.6 C940.7,1219.9 943.1,1220.3 944.3,1222.0 C945.5,1223.7 946.1,1225.9 946.4,1228.6 C946.6,1231.4 945.6,1233.1 945.9,1238.4 C946.1,1243.8 947.1,1252.9 947.7,1260.5Z" fill="url(#bg5)"/>
</g>
<g opacity="0.94">
<path d="M589.8,664.0 C590.3,670.2 590.1,678.8 589.8,683.2 C589.4,687.6 587.9,688.1 587.6,690.4 C587.2,692.8 587.8,695.1 587.9,697.3 C587.9,699.5 588.5,702.0 587.8,703.6 C587.0,705.2 584.9,705.9 583.3,706.8 C581.7,707.7 579.6,708.1 578.0,709.1 C576.4,710.1 575.6,711.9 573.6,712.7 C571.6,713.6 569.2,714.2 566.1,714.1 C562.9,714.0 560.4,712.6 554.7,712.1 C548.9,711.6 539.2,711.3 531.5,711.1 C523.8,711.0 513.9,711.7 508.7,711.3 C503.6,710.8 502.9,709.6 500.8,708.5 C498.7,707.4 498.0,705.6 496.3,704.7 C494.7,703.9 492.6,704.0 490.7,703.5 C488.9,703.1 486.5,703.1 485.2,702.2 C483.9,701.3 483.8,699.5 482.9,698.2 C482.1,696.9 481.5,695.5 480.1,694.3 C478.7,693.1 476.1,692.6 474.6,690.8 C473.2,689.0 472.1,688.2 471.6,683.7 C471.2,679.2 472.3,670.6 472.2,664.0 C472.1,657.4 471.5,649.0 471.1,644.1 C470.7,639.3 469.5,637.4 469.8,634.9 C470.1,632.5 471.6,630.9 472.9,629.5 C474.3,628.0 476.6,627.5 477.9,626.2 C479.2,625.0 479.5,623.2 480.7,622.0 C481.9,620.8 483.0,619.4 485.0,618.9 C487.0,618.4 490.1,619.1 492.7,619.1 C495.2,619.0 497.6,619.1 500.2,618.7 C502.9,618.2 503.3,616.7 508.6,616.4 C513.8,616.0 524.0,616.0 531.5,616.3 C539.0,616.7 548.2,618.1 553.4,618.5 C558.6,618.9 559.9,618.6 562.8,618.6 C565.7,618.6 568.8,618.0 570.8,618.5 C572.9,619.0 574.0,620.5 575.2,621.7 C576.3,622.9 576.7,624.6 578.0,625.6 C579.3,626.6 581.4,626.8 582.8,627.9 C584.1,628.9 585.6,630.0 586.1,631.8 C586.6,633.6 585.6,636.1 585.7,638.5 C585.8,640.8 586.0,641.6 586.7,645.9 C587.3,650.1 589.3,657.8 589.8,664.0Z" fill="url(#bg6)"/>
<path d="M557.9,612.5 C557.7,613.4 556.9,614.4 556.7,615.3 C556.6,616.1 557.1,616.7 557.1,617.3 C557.0,618.0 557.1,618.7 556.5,619.2 C556.0,619.8 554.6,620.1 553.6,620.5 C552.7,621.0 551.8,621.4 550.9,621.9 C550.1,622.3 549.7,623.0 548.6,623.4 C547.5,623.8 546.0,624.2 544.3,624.3 C542.6,624.5 540.5,624.4 538.6,624.5 C536.7,624.6 535.1,624.8 532.7,625.0 C530.3,625.1 526.9,625.4 524.0,625.3 C521.1,625.2 517.8,624.9 515.6,624.6 C513.3,624.3 512.2,623.8 510.5,623.6 C508.9,623.4 507.2,623.3 505.8,623.1 C504.4,622.9 503.0,622.7 502.0,622.3 C501.0,621.9 500.8,621.3 500.0,620.8 C499.3,620.4 498.6,620.0 497.6,619.7 C496.6,619.3 495.0,619.1 494.1,618.7 C493.2,618.3 492.6,617.7 492.2,617.2 C491.8,616.6 492.1,616.0 491.6,615.2 C491.2,614.4 490.2,613.5 489.6,612.5 C489.0,611.5 488.0,610.3 487.9,609.5 C487.8,608.6 488.6,608.0 489.2,607.4 C489.7,606.8 490.6,606.3 491.1,605.7 C491.6,605.1 491.6,604.4 492.3,603.9 C493.0,603.4 493.9,602.8 495.3,602.5 C496.6,602.2 498.7,602.2 500.3,602.0 C501.9,601.8 503.3,601.6 504.9,601.3 C506.4,601.1 507.7,600.7 509.5,600.5 C511.3,600.4 513.3,600.5 515.7,600.6 C518.1,600.7 521.3,601.0 524.0,601.0 C526.7,601.1 529.8,600.9 532.1,600.9 C534.4,600.9 536.3,600.8 538.0,601.0 C539.6,601.2 540.8,601.6 542.2,601.9 C543.5,602.2 544.5,602.6 545.9,602.8 C547.2,603.0 549.0,603.1 550.3,603.4 C551.5,603.7 552.6,604.1 553.3,604.5 C554.0,605.0 553.8,605.7 554.3,606.2 C554.8,606.8 555.5,607.2 556.1,607.8 C556.8,608.4 558.0,608.8 558.3,609.6 C558.6,610.4 558.2,611.6 557.9,612.5Z" fill="url(#bg6)"/>
</g>
<g opacity="0.94">
<path d="M536.2,813.0 C535.5,821.5 535.2,831.8 534.9,837.6 C534.7,843.5 535.4,845.4 534.6,848.0 C533.8,850.7 531.8,852.2 530.2,853.6 C528.5,855.1 526.0,855.3 524.6,856.6 C523.3,858.0 523.0,860.0 522.1,861.6 C521.1,863.1 520.4,865.1 518.8,866.0 C517.2,866.9 514.5,866.5 512.4,867.0 C510.2,867.6 508.3,868.0 506.0,869.2 C503.8,870.4 503.8,873.1 498.7,874.3 C493.5,875.6 483.0,876.4 475.0,876.6 C467.0,876.8 456.7,875.6 450.8,875.6 C445.0,875.7 443.2,876.4 439.8,876.7 C436.4,877.1 432.7,878.2 430.2,877.7 C427.8,877.2 426.3,875.2 424.9,873.6 C423.5,872.0 423.1,869.5 421.8,867.9 C420.5,866.2 418.4,865.6 417.2,863.8 C416.0,862.1 414.7,860.2 414.6,857.5 C414.4,854.8 415.8,851.0 416.2,847.6 C416.6,844.1 417.0,842.7 416.8,836.9 C416.6,831.1 415.2,821.0 415.2,813.0 C415.1,805.0 415.7,794.4 416.6,789.0 C417.4,783.6 419.4,783.4 420.1,780.7 C420.8,778.1 420.6,775.5 420.7,773.0 C420.9,770.5 420.4,767.5 421.2,765.7 C422.0,763.8 424.1,763.1 425.7,762.1 C427.2,761.0 429.2,760.7 430.7,759.4 C432.1,758.1 432.6,755.6 434.3,754.2 C436.0,752.9 438.0,751.6 440.9,751.3 C443.8,751.0 445.9,752.3 451.6,752.4 C457.3,752.5 467.0,752.3 475.0,751.9 C483.0,751.5 493.7,749.8 499.4,749.7 C505.1,749.6 506.4,750.5 509.1,751.4 C511.7,752.2 512.9,754.2 515.1,755.0 C517.3,755.7 520.0,755.4 522.2,755.8 C524.5,756.2 527.3,756.2 528.8,757.5 C530.4,758.7 530.6,761.3 531.4,763.4 C532.2,765.4 532.5,767.7 533.6,769.8 C534.7,771.9 536.9,773.2 537.9,776.0 C538.8,778.8 539.3,780.5 539.1,786.7 C538.8,792.9 536.9,804.5 536.2,813.0Z" fill="url(#bg7)"/>
</g>
<g opacity="0.94">
<path d="M577.4,983.0 C578.0,991.5 579.0,1003.2 578.7,1009.1 C578.4,1015.1 576.6,1015.8 575.8,1018.7 C575.0,1021.6 574.2,1023.6 573.9,1026.3 C573.6,1028.9 574.5,1032.4 574.0,1034.8 C573.4,1037.1 572.3,1039.0 570.7,1040.3 C569.1,1041.6 566.3,1041.5 564.3,1042.5 C562.4,1043.5 561.0,1045.1 559.1,1046.4 C557.1,1047.7 555.5,1049.8 552.4,1050.3 C549.4,1050.8 547.0,1049.8 540.8,1049.1 C534.7,1048.5 523.8,1046.9 515.5,1046.5 C507.2,1046.0 496.8,1046.9 491.1,1046.6 C485.5,1046.3 484.0,1046.0 481.6,1044.8 C479.2,1043.5 478.4,1040.7 476.9,1039.1 C475.4,1037.5 474.3,1036.2 472.5,1035.3 C470.8,1034.5 468.1,1034.8 466.6,1033.8 C465.0,1032.8 464.0,1031.1 463.2,1029.3 C462.4,1027.5 462.8,1024.8 461.8,1022.8 C460.8,1020.9 458.8,1019.8 457.2,1017.5 C455.7,1015.2 453.2,1014.9 452.3,1009.1 C451.4,1003.4 451.9,991.7 451.9,983.0 C451.8,974.3 452.4,963.2 452.1,956.8 C451.8,950.3 450.3,947.9 450.1,944.3 C450.0,940.7 450.2,937.6 451.3,935.4 C452.4,933.2 455.1,932.5 456.8,931.0 C458.5,929.6 459.9,928.2 461.3,926.7 C462.7,925.2 463.3,922.7 465.2,921.8 C467.2,920.8 470.1,920.9 472.9,921.0 C475.8,921.2 479.2,922.6 482.3,922.5 C485.5,922.5 486.2,921.5 491.7,921.0 C497.3,920.5 507.7,919.4 515.5,919.6 C523.3,919.8 533.4,921.6 538.7,922.4 C544.1,923.2 544.7,924.2 547.6,924.4 C550.6,924.6 553.8,923.4 556.3,923.6 C558.8,923.8 561.0,924.4 562.5,925.7 C564.1,926.9 564.3,929.5 565.5,931.1 C566.7,932.6 568.2,933.6 569.8,935.0 C571.3,936.3 573.8,936.9 574.8,939.0 C575.9,941.1 575.7,944.1 575.8,947.3 C575.8,950.5 574.8,952.4 575.1,958.4 C575.4,964.3 576.8,974.5 577.4,983.0Z" fill="url(#bg8)"/>
</g>
<g opacity="0.94">
<path d="M725.6,1059.0 C724.7,1067.6 722.6,1077.8 721.7,1083.6 C720.9,1089.3 721.0,1090.5 720.7,1093.5 C720.5,1096.6 721.1,1099.8 720.5,1102.0 C719.8,1104.2 718.0,1105.3 716.8,1106.7 C715.5,1108.1 713.8,1108.8 712.9,1110.5 C711.9,1112.2 712.0,1115.1 711.1,1116.9 C710.1,1118.8 709.0,1120.8 707.1,1121.7 C705.2,1122.6 702.3,1121.8 699.6,1122.2 C696.9,1122.6 696.0,1123.2 690.8,1124.0 C685.6,1124.9 676.1,1127.1 668.5,1127.6 C660.9,1128.0 650.5,1127.4 645.3,1126.7 C640.0,1126.0 639.6,1123.9 637.0,1123.2 C634.3,1122.4 631.8,1122.8 629.5,1122.4 C627.1,1122.1 624.4,1122.4 622.8,1121.2 C621.1,1120.1 620.7,1117.5 619.7,1115.6 C618.8,1113.7 618.4,1111.4 617.2,1109.8 C615.9,1108.1 613.6,1107.5 612.4,1105.5 C611.1,1103.5 610.1,1101.1 609.8,1097.8 C609.6,1094.5 610.8,1092.1 610.9,1085.6 C611.0,1079.1 610.8,1068.0 610.5,1059.0 C610.2,1050.0 608.9,1037.8 609.2,1031.6 C609.4,1025.4 610.8,1024.2 612.0,1021.7 C613.3,1019.1 615.5,1018.0 616.6,1016.1 C617.8,1014.1 617.9,1011.8 618.8,1009.9 C619.7,1008.0 620.2,1005.8 621.8,1004.8 C623.3,1003.8 626.0,1004.3 628.0,1003.9 C630.0,1003.5 631.9,1003.4 633.7,1002.4 C635.4,1001.4 636.2,998.9 638.4,997.7 C640.6,996.6 641.7,995.7 646.7,995.5 C651.7,995.2 661.1,996.4 668.5,996.1 C675.9,995.9 685.3,994.8 690.8,993.9 C696.4,993.0 698.9,991.1 702.0,990.9 C705.1,990.7 707.2,991.8 709.3,992.7 C711.4,993.7 712.5,995.6 714.4,996.5 C716.3,997.5 718.9,997.4 720.7,998.4 C722.5,999.5 724.4,1000.7 725.2,1003.0 C725.9,1005.2 725.2,1009.0 725.2,1012.1 C725.2,1015.2 725.0,1018.1 725.3,1021.5 C725.6,1024.8 727.0,1025.7 727.1,1032.0 C727.1,1038.2 726.5,1050.4 725.6,1059.0Z" fill="url(#bg9)"/>
</g>
<g opacity="0.94">
<path d="M687.3,844.5 C687.4,851.3 687.8,860.5 687.3,865.1 C686.7,869.7 684.9,870.1 683.9,872.1 C682.9,874.1 681.8,875.3 681.3,877.1 C680.8,878.9 681.3,881.3 680.7,882.9 C680.1,884.5 679.1,885.8 677.8,886.6 C676.5,887.4 674.2,887.1 672.7,887.8 C671.2,888.4 670.2,889.5 668.7,890.5 C667.3,891.6 666.3,893.4 664.1,893.9 C661.9,894.4 660.3,893.9 655.7,893.6 C651.1,893.4 642.9,892.4 636.5,892.4 C630.1,892.4 621.9,893.4 617.4,893.5 C612.8,893.7 611.3,894.0 609.1,893.5 C607.0,892.9 606.0,891.1 604.5,890.2 C603.0,889.3 601.8,888.5 600.1,888.0 C598.4,887.6 596.0,888.0 594.5,887.4 C592.9,886.7 591.8,885.5 591.0,884.0 C590.2,882.5 590.4,880.3 589.7,878.6 C588.9,876.8 587.5,875.7 586.4,873.6 C585.3,871.5 583.6,871.0 583.1,866.2 C582.7,861.3 583.4,851.6 583.8,844.5 C584.1,837.4 585.1,828.7 585.3,823.7 C585.6,818.8 584.9,817.2 585.2,814.7 C585.5,812.2 586.0,810.0 587.2,808.6 C588.4,807.2 590.9,807.0 592.4,806.2 C594.0,805.4 595.4,804.8 596.6,803.8 C597.8,802.8 598.2,801.1 599.7,800.4 C601.1,799.8 603.1,799.8 605.2,799.8 C607.2,799.8 609.7,800.8 612.0,800.6 C614.2,800.4 614.5,799.4 618.6,798.6 C622.7,797.9 630.4,796.5 636.5,796.3 C642.6,796.0 650.6,796.9 655.0,797.1 C659.4,797.3 660.2,797.7 662.8,797.5 C665.4,797.3 668.3,796.0 670.5,795.9 C672.8,795.7 675.0,795.9 676.5,796.7 C678.0,797.5 678.4,799.4 679.5,800.6 C680.7,801.8 681.9,802.8 683.2,803.9 C684.5,805.0 686.6,805.7 687.3,807.5 C688.1,809.3 687.9,811.9 687.8,814.7 C687.7,817.5 686.6,819.3 686.5,824.2 C686.4,829.2 687.1,837.7 687.3,844.5Z" fill="url(#bg10)"/>
</g>
<g opacity="0.94">
<path d="M856.5,836.5 C857.1,842.0 858.4,849.6 858.5,853.6 C858.7,857.6 858.1,858.6 857.6,860.5 C857.1,862.4 856.0,863.4 855.5,865.0 C855.1,866.6 855.5,868.6 855.1,870.2 C854.7,871.7 854.4,873.4 853.4,874.3 C852.4,875.1 850.4,875.0 849.0,875.4 C847.5,875.9 846.1,876.2 844.7,876.9 C843.3,877.6 842.5,879.2 840.6,879.8 C838.8,880.4 837.6,880.6 833.6,880.5 C829.6,880.4 822.1,879.3 816.5,879.2 C810.9,879.0 803.8,879.5 799.7,879.6 C795.6,879.8 794.1,880.6 792.1,880.3 C790.1,880.0 788.9,878.8 787.7,877.8 C786.4,876.9 785.8,875.5 784.7,874.7 C783.5,873.9 781.8,873.9 780.7,873.1 C779.7,872.3 778.6,871.3 778.2,869.9 C777.9,868.4 778.6,866.0 778.6,864.2 C778.5,862.4 778.5,860.8 778.2,858.8 C777.8,856.9 776.6,856.5 776.4,852.8 C776.3,849.1 776.6,841.8 777.0,836.5 C777.4,831.2 778.6,824.9 778.8,821.1 C779.0,817.4 778.5,816.4 778.3,814.2 C778.1,812.1 777.4,809.8 777.6,808.1 C777.8,806.5 778.9,805.5 779.6,804.3 C780.3,803.1 781.2,802.3 781.7,800.9 C782.2,799.5 782.0,797.3 782.7,796.0 C783.4,794.6 784.4,793.3 785.9,792.7 C787.4,792.0 789.7,792.5 791.8,792.3 C794.0,792.0 794.8,791.6 798.9,791.2 C803.0,790.7 810.6,789.6 816.5,789.6 C822.4,789.7 830.2,790.5 834.0,791.4 C837.9,792.3 838.0,794.0 839.8,794.8 C841.5,795.6 843.1,795.7 844.6,796.3 C846.0,796.8 847.6,797.1 848.4,798.2 C849.2,799.3 849.1,801.3 849.5,802.7 C849.9,804.1 850.1,805.5 850.8,806.6 C851.5,807.7 853.1,808.0 853.9,809.2 C854.6,810.4 855.3,811.8 855.5,813.8 C855.7,815.7 855.0,817.0 855.1,820.8 C855.3,824.6 855.9,831.0 856.5,836.5Z" fill="url(#bg11)"/>
</g>
<g opacity="0.94">
<path d="M780.1,915.0 C780.4,921.2 780.2,929.7 779.7,934.0 C779.2,938.2 777.6,938.5 777.0,940.5 C776.4,942.6 776.2,944.3 776.0,946.2 C775.7,948.1 776.1,950.4 775.4,951.7 C774.7,953.1 773.2,953.7 772.0,954.4 C770.7,955.1 768.9,955.1 767.7,955.9 C766.4,956.7 765.8,958.2 764.5,959.1 C763.2,959.9 761.7,960.9 759.6,961.0 C757.5,961.1 755.8,960.0 751.7,959.7 C747.6,959.3 740.6,958.9 735.0,958.9 C729.4,959.0 722.1,959.9 718.3,959.8 C714.4,959.7 713.6,959.0 711.9,958.2 C710.2,957.4 709.6,955.6 708.3,954.9 C707.0,954.2 705.5,954.1 704.0,953.8 C702.5,953.4 700.6,953.7 699.5,952.9 C698.3,952.2 698.0,950.6 697.3,949.3 C696.6,948.0 696.4,946.4 695.4,945.1 C694.5,943.8 692.6,943.2 691.5,941.5 C690.4,939.7 689.3,939.0 689.0,934.5 C688.6,930.1 689.4,921.5 689.5,915.0 C689.5,908.5 689.5,900.3 689.3,895.6 C689.2,890.9 688.3,889.1 688.6,886.8 C688.8,884.4 689.9,882.8 691.0,881.5 C692.1,880.2 694.1,879.9 695.3,878.9 C696.5,877.9 697.1,876.6 698.1,875.7 C699.1,874.7 699.9,873.3 701.4,873.0 C702.9,872.6 705.3,873.3 707.2,873.5 C709.1,873.6 711.1,874.2 713.0,873.9 C715.0,873.6 715.3,872.4 718.9,871.9 C722.6,871.5 729.7,871.2 735.0,871.3 C740.3,871.5 746.9,872.8 750.7,873.0 C754.4,873.2 755.3,873.0 757.6,872.8 C759.8,872.6 762.3,871.5 764.1,871.6 C765.8,871.7 767.1,872.6 768.2,873.4 C769.4,874.3 769.8,875.8 770.9,876.7 C772.1,877.5 773.8,877.7 775.0,878.6 C776.2,879.5 777.7,880.4 778.3,882.0 C778.8,883.7 778.3,886.2 778.3,888.7 C778.3,891.1 778.1,892.2 778.4,896.6 C778.7,901.0 779.9,908.8 780.1,915.0Z" fill="url(#bg12)"/>
</g>
<g opacity="0.94">
<path d="M1009.9,708.5 C1009.0,716.0 1007.8,724.8 1007.4,729.9 C1006.9,735.0 1007.7,736.5 1007.2,739.1 C1006.8,741.6 1006.0,743.5 1004.8,745.0 C1003.7,746.5 1001.4,746.8 1000.2,748.1 C999.1,749.3 998.6,750.9 997.9,752.5 C997.2,754.1 997.2,756.6 996.0,757.8 C994.8,759.1 992.7,759.3 990.7,759.8 C988.7,760.3 986.4,760.0 984.0,760.7 C981.7,761.5 981.5,763.3 976.6,764.2 C971.8,765.2 962.2,766.3 955.0,766.2 C947.8,766.2 938.4,764.7 933.4,764.2 C928.4,763.6 927.5,763.1 924.8,762.9 C922.0,762.8 919.0,763.7 916.9,763.3 C914.7,762.9 913.1,761.8 911.8,760.5 C910.6,759.2 910.4,756.8 909.3,755.4 C908.2,754.0 906.6,753.3 905.1,752.1 C903.7,750.9 901.6,750.2 900.7,748.3 C899.9,746.4 900.2,743.5 900.0,740.6 C899.9,737.8 900.4,736.3 900.1,730.9 C899.7,725.6 898.2,716.1 897.7,708.5 C897.3,700.9 897.0,690.3 897.6,685.0 C898.2,679.8 900.2,679.4 901.2,677.1 C902.3,674.7 903.2,673.0 903.8,671.0 C904.5,669.0 904.3,666.5 905.3,665.0 C906.4,663.6 908.2,662.9 910.1,662.4 C911.9,661.9 914.6,662.5 916.4,662.0 C918.2,661.5 919.1,660.2 920.8,659.3 C922.4,658.3 923.7,656.8 926.0,656.4 C928.4,655.9 930.1,656.8 935.0,656.8 C939.8,656.9 948.1,657.2 955.0,656.7 C961.9,656.2 971.1,654.3 976.3,653.6 C981.5,652.9 983.4,652.4 986.0,652.6 C988.7,652.8 990.2,654.4 992.3,654.9 C994.4,655.4 996.5,655.6 998.7,655.8 C1000.9,656.1 1003.9,655.7 1005.6,656.6 C1007.2,657.6 1008.0,659.6 1008.6,661.6 C1009.2,663.6 1008.8,666.4 1009.3,668.7 C1009.9,671.0 1011.2,672.6 1011.8,675.3 C1012.4,678.0 1013.2,679.3 1012.9,684.8 C1012.6,690.4 1010.8,701.0 1009.9,708.5Z" fill="url(#bg13)"/>
<path d="M991.6,648.5 C991.8,649.8 992.8,651.2 992.9,652.3 C993.0,653.4 992.9,654.2 992.2,655.0 C991.5,655.8 989.7,656.3 988.7,656.9 C987.6,657.6 986.8,658.2 986.1,658.8 C985.3,659.5 985.2,660.4 984.1,661.0 C983.0,661.6 981.2,662.0 979.5,662.3 C977.7,662.7 975.5,662.7 973.6,663.1 C971.7,663.4 970.3,664.0 968.2,664.3 C966.1,664.7 964.2,665.3 961.2,665.4 C958.1,665.5 953.6,665.2 950.0,665.1 C946.4,665.0 942.4,664.7 939.4,664.6 C936.3,664.5 933.9,664.7 931.6,664.5 C929.3,664.4 927.2,664.0 925.6,663.5 C924.0,663.1 923.2,662.2 922.0,661.6 C920.9,661.0 919.7,660.6 918.4,660.1 C917.2,659.6 915.4,659.3 914.5,658.7 C913.6,658.1 913.4,657.3 913.2,656.5 C912.9,655.8 913.3,655.0 912.9,654.2 C912.4,653.5 911.1,653.0 910.4,652.0 C909.6,651.1 908.6,649.7 908.4,648.5 C908.2,647.3 909.0,645.9 909.2,644.9 C909.5,643.8 909.7,643.2 909.7,642.3 C909.6,641.4 908.7,640.4 908.9,639.5 C909.1,638.7 909.8,637.9 910.9,637.3 C912.0,636.7 914.0,636.3 915.4,635.8 C916.8,635.3 917.9,634.7 919.4,634.1 C920.8,633.6 922.1,632.9 924.1,632.6 C926.1,632.3 928.8,632.3 931.4,632.3 C934.0,632.3 936.4,632.6 939.5,632.6 C942.6,632.6 946.5,632.3 950.0,632.3 C953.5,632.3 957.8,632.3 960.6,632.5 C963.4,632.8 964.9,633.5 966.8,633.8 C968.8,634.2 970.3,634.6 972.2,634.8 C974.1,635.1 976.4,635.0 978.0,635.4 C979.7,635.7 981.1,636.2 982.1,636.7 C983.2,637.3 983.4,638.0 984.4,638.6 C985.4,639.2 986.9,639.6 988.1,640.2 C989.4,640.7 991.1,641.3 991.7,642.1 C992.4,642.8 992.1,643.7 992.0,644.8 C992.0,645.8 991.5,647.2 991.6,648.5Z" fill="url(#bg13)"/>
</g>
<g opacity="0.94">
<path d="M1022.2,890.5 C1022.2,898.8 1021.2,909.9 1020.3,915.5 C1019.3,921.0 1017.3,921.2 1016.4,923.8 C1015.4,926.3 1015.4,928.8 1014.7,930.8 C1014.0,932.9 1013.5,935.1 1012.1,936.2 C1010.7,937.4 1008.2,937.1 1006.4,937.6 C1004.6,938.1 1002.7,938.2 1001.3,939.2 C999.9,940.1 999.5,942.3 998.0,943.3 C996.5,944.4 994.7,945.2 992.3,945.5 C989.9,945.7 988.4,944.7 983.8,945.1 C979.1,945.4 971.3,946.5 964.5,947.5 C957.7,948.5 948.2,950.5 943.1,951.0 C938.1,951.5 936.7,950.8 934.2,950.4 C931.7,949.9 930.1,948.6 927.9,948.2 C925.7,947.8 923.0,948.5 920.9,948.1 C918.8,947.7 916.6,947.3 915.4,945.8 C914.3,944.3 914.4,941.3 913.9,939.1 C913.4,936.8 913.1,934.6 912.4,932.4 C911.7,930.2 910.0,928.7 909.5,925.8 C909.1,922.9 909.3,920.9 909.7,915.0 C910.2,909.2 912.0,898.5 912.5,890.5 C913.0,882.5 912.8,872.9 912.8,867.3 C912.8,861.8 912.1,859.8 912.6,857.2 C913.1,854.5 914.7,853.0 915.8,851.4 C916.9,849.7 918.5,848.9 919.3,847.1 C920.1,845.4 919.9,842.8 920.6,841.1 C921.3,839.3 922.2,837.5 923.7,836.6 C925.3,835.8 927.9,836.4 929.9,836.0 C932.0,835.6 933.7,835.0 936.0,834.2 C938.2,833.3 938.6,831.3 943.4,830.7 C948.1,830.2 957.6,830.6 964.5,831.0 C971.4,831.5 979.8,833.2 984.6,833.5 C989.5,833.9 990.8,833.3 993.5,833.2 C996.2,833.1 999.0,832.4 1001.0,833.0 C1002.9,833.6 1003.9,835.5 1005.2,836.8 C1006.5,838.0 1007.3,839.6 1008.9,840.5 C1010.4,841.5 1013.0,841.3 1014.5,842.5 C1016.1,843.6 1017.5,845.1 1018.2,847.3 C1018.9,849.6 1018.2,852.8 1018.5,855.8 C1018.8,858.9 1019.4,859.8 1020.0,865.6 C1020.6,871.4 1022.1,882.2 1022.2,890.5Z" fill="url(#bg14)"/>
</g>
<g opacity="0.94">
<path d="M949.1,1017.0 C949.8,1023.0 951.0,1031.4 950.9,1035.8 C950.9,1040.1 949.3,1040.7 948.7,1042.9 C948.1,1045.0 947.5,1046.6 947.4,1048.7 C947.3,1050.7 948.4,1053.5 948.0,1055.3 C947.7,1057.1 946.6,1058.6 945.0,1059.6 C943.5,1060.6 940.7,1060.5 938.7,1061.3 C936.8,1062.1 935.5,1063.3 933.5,1064.3 C931.6,1065.4 930.1,1067.1 927.1,1067.5 C924.1,1068.0 921.8,1067.4 915.5,1067.2 C909.3,1066.9 898.2,1065.9 889.5,1065.9 C880.8,1065.9 869.7,1066.9 863.5,1067.0 C857.4,1067.2 855.4,1067.4 852.5,1066.8 C849.6,1066.2 848.3,1064.4 846.3,1063.4 C844.3,1062.4 842.7,1061.6 840.6,1061.0 C838.5,1060.4 835.5,1060.6 833.8,1059.7 C832.1,1058.8 831.1,1057.3 830.5,1055.6 C829.9,1053.9 830.6,1051.4 830.2,1049.5 C829.7,1047.5 828.5,1046.2 827.7,1044.0 C826.9,1041.9 825.4,1041.1 825.4,1036.6 C825.5,1032.0 827.0,1023.3 827.9,1017.0 C828.8,1010.7 830.3,1003.4 830.7,999.0 C831.0,994.7 830.0,993.4 830.2,991.1 C830.4,988.8 830.6,986.8 831.7,985.3 C832.7,983.9 835.2,983.5 836.4,982.3 C837.6,981.1 838.3,979.9 839.0,978.3 C839.7,976.7 839.4,974.3 840.5,972.9 C841.6,971.6 843.7,970.8 845.9,970.1 C848.1,969.4 850.9,969.6 853.7,968.9 C856.5,968.1 856.8,966.5 862.8,965.6 C868.8,964.6 880.5,963.2 889.5,963.1 C898.5,962.9 910.4,964.0 916.7,964.6 C922.9,965.2 923.7,966.2 926.9,966.7 C930.1,967.1 933.4,966.6 935.8,967.3 C938.2,967.9 940.1,969.0 941.2,970.5 C942.3,972.0 941.9,974.6 942.5,976.3 C943.1,978.1 943.9,979.4 944.9,980.8 C945.9,982.2 947.8,983.0 948.4,984.8 C948.9,986.5 948.3,988.9 948.1,991.4 C947.8,993.9 946.6,995.3 946.7,999.5 C946.9,1003.8 948.4,1011.0 949.1,1017.0Z" fill="url(#bg15)"/>
</g>
<g opacity="0.94">
<path d="M1092.6,493.0 C1093.1,500.8 1094.8,511.0 1095.7,516.9 C1096.6,522.8 1098.1,525.2 1097.9,528.3 C1097.8,531.4 1096.1,533.2 1095.0,535.4 C1094.0,537.5 1092.6,539.1 1091.8,541.2 C1091.0,543.3 1091.3,546.2 1090.0,547.9 C1088.8,549.6 1086.8,551.0 1084.3,551.5 C1081.8,552.0 1077.9,551.0 1074.8,551.1 C1071.8,551.2 1069.2,551.6 1066.0,552.0 C1062.7,552.4 1061.5,553.7 1055.2,553.5 C1048.9,553.3 1036.6,552.0 1028.0,550.9 C1019.4,549.9 1009.4,548.0 1003.6,547.4 C997.7,546.8 996.2,547.4 993.1,547.2 C990.0,547.1 987.0,547.3 984.9,546.5 C982.8,545.6 982.1,543.5 980.5,542.3 C979.0,541.1 977.7,540.1 975.7,539.4 C973.7,538.6 970.3,539.0 968.4,538.0 C966.5,537.0 965.1,535.3 964.3,533.3 C963.4,531.2 964.1,528.3 963.4,525.6 C962.7,522.9 961.3,522.3 960.2,516.9 C959.1,511.5 957.1,501.1 956.9,493.0 C956.6,484.9 957.9,474.2 958.8,468.6 C959.6,463.0 961.3,462.5 961.9,459.6 C962.5,456.8 961.7,453.8 962.2,451.4 C962.6,449.0 963.2,446.6 964.7,445.2 C966.2,443.7 969.2,443.6 971.2,442.7 C973.2,441.8 974.9,440.9 976.6,439.6 C978.2,438.2 978.9,435.8 981.1,434.8 C983.2,433.7 986.2,433.4 989.6,433.3 C993.0,433.3 995.3,434.5 1001.7,434.4 C1008.1,434.4 1019.1,433.5 1028.0,433.1 C1036.9,432.7 1049.2,431.7 1055.4,432.1 C1061.5,432.5 1062.3,434.4 1065.0,435.6 C1067.6,436.8 1069.0,438.5 1071.2,439.4 C1073.4,440.3 1076.3,440.0 1078.2,440.8 C1080.2,441.6 1082.0,442.7 1082.9,444.4 C1083.8,446.0 1083.2,448.9 1083.8,450.9 C1084.4,452.8 1085.3,454.3 1086.6,455.9 C1087.9,457.6 1090.5,458.5 1091.6,460.9 C1092.6,463.3 1092.7,464.8 1092.9,470.1 C1093.1,475.5 1092.1,485.2 1092.6,493.0Z" fill="url(#bg16)"/>
</g>
<g opacity="0.94">
<path d="M1216.3,696.5 C1216.6,703.2 1217.8,712.2 1217.2,716.8 C1216.7,721.3 1214.6,721.9 1213.1,723.8 C1211.5,725.6 1209.3,726.5 1208.1,728.0 C1207.0,729.5 1207.1,731.5 1206.2,732.9 C1205.2,734.3 1204.2,735.7 1202.4,736.4 C1200.6,737.1 1197.5,736.6 1195.3,737.1 C1193.2,737.5 1191.5,738.1 1189.7,739.1 C1187.9,740.1 1187.0,742.1 1184.5,743.0 C1182.0,743.9 1180.5,744.2 1174.6,744.5 C1168.7,744.7 1157.7,744.0 1149.0,744.4 C1140.3,744.7 1128.9,745.9 1122.3,746.6 C1115.7,747.3 1112.8,748.5 1109.3,748.4 C1105.9,748.4 1103.7,747.1 1101.4,746.3 C1099.0,745.5 1097.5,744.2 1095.3,743.5 C1093.1,742.8 1090.0,742.9 1088.1,741.9 C1086.3,741.0 1084.7,739.6 1084.1,737.8 C1083.6,735.9 1084.8,733.0 1084.8,730.7 C1084.8,728.4 1084.6,726.5 1084.1,724.1 C1083.7,721.7 1082.2,720.9 1082.2,716.3 C1082.3,711.7 1083.5,702.8 1084.5,696.5 C1085.5,690.2 1087.6,682.8 1088.3,678.5 C1088.9,674.2 1088.2,673.0 1088.3,670.7 C1088.4,668.3 1087.9,666.0 1088.7,664.4 C1089.5,662.7 1091.7,662.1 1093.1,660.9 C1094.4,659.8 1095.9,659.0 1096.8,657.5 C1097.7,656.1 1097.4,653.8 1098.6,652.4 C1099.8,651.0 1101.6,649.9 1103.9,649.4 C1106.3,648.8 1109.7,649.5 1112.8,649.1 C1116.0,648.8 1116.7,648.0 1122.8,647.3 C1128.8,646.6 1140.2,645.2 1149.0,645.0 C1157.8,644.8 1169.7,645.7 1175.8,646.3 C1181.9,646.9 1182.4,648.3 1185.5,648.7 C1188.7,649.1 1191.9,648.5 1194.6,648.8 C1197.4,649.0 1200.3,649.1 1202.0,650.1 C1203.8,651.0 1204.1,653.1 1205.3,654.5 C1206.5,655.9 1207.4,657.2 1209.0,658.3 C1210.6,659.5 1213.4,659.9 1214.7,661.5 C1216.0,663.1 1216.6,665.1 1216.8,667.7 C1216.9,670.2 1215.5,672.0 1215.4,676.8 C1215.3,681.6 1216.0,689.8 1216.3,696.5Z" fill="url(#bg17)"/>
</g>
<g opacity="0.94">
<path d="M1196.7,963.0 C1196.4,970.2 1196.0,978.9 1196.2,984.2 C1196.3,989.4 1197.7,991.4 1197.8,994.2 C1197.9,997.1 1197.5,999.5 1196.7,1001.4 C1195.9,1003.2 1194.0,1004.0 1193.0,1005.6 C1192.0,1007.2 1191.6,1009.1 1190.9,1010.9 C1190.1,1012.6 1189.9,1015.1 1188.4,1016.3 C1186.9,1017.4 1184.4,1017.5 1182.0,1017.7 C1179.7,1017.9 1176.9,1017.3 1174.1,1017.6 C1171.3,1017.9 1170.6,1019.1 1165.5,1019.4 C1160.3,1019.8 1150.2,1020.1 1143.0,1019.5 C1135.8,1018.8 1126.8,1016.7 1122.1,1015.6 C1117.3,1014.5 1116.9,1013.4 1114.6,1012.9 C1112.2,1012.3 1109.7,1012.9 1107.9,1012.2 C1106.1,1011.6 1104.8,1010.3 1103.8,1008.9 C1102.8,1007.6 1102.9,1005.4 1101.8,1004.2 C1100.8,1003.0 1099.1,1002.6 1097.6,1001.7 C1096.0,1000.9 1093.7,1000.5 1092.6,999.0 C1091.5,997.5 1091.5,995.1 1091.0,992.7 C1090.5,990.2 1090.4,989.2 1089.6,984.3 C1088.7,979.3 1086.6,970.4 1085.7,963.0 C1084.8,955.6 1084.1,945.0 1084.2,939.6 C1084.4,934.3 1086.0,933.5 1086.7,930.9 C1087.4,928.3 1087.9,926.3 1088.4,924.0 C1088.8,921.7 1088.4,919.0 1089.4,917.3 C1090.4,915.7 1092.3,914.8 1094.2,914.2 C1096.1,913.6 1098.9,914.1 1100.9,913.6 C1102.8,913.1 1104.1,911.9 1105.9,911.1 C1107.8,910.3 1109.5,909.0 1112.2,908.9 C1114.9,908.8 1117.0,910.0 1122.1,910.5 C1127.2,910.9 1136.0,911.7 1143.0,911.6 C1150.0,911.5 1159.1,910.2 1164.1,910.0 C1169.1,909.8 1170.6,909.9 1172.9,910.5 C1175.2,911.2 1176.3,913.1 1178.0,914.0 C1179.7,914.8 1181.5,915.2 1183.4,915.6 C1185.2,916.1 1187.9,915.8 1189.3,916.7 C1190.7,917.7 1191.2,919.6 1191.8,921.4 C1192.3,923.2 1191.9,925.7 1192.6,927.6 C1193.3,929.5 1194.9,930.7 1195.8,932.9 C1196.7,935.1 1198.0,936.0 1198.1,941.1 C1198.3,946.1 1197.1,955.8 1196.7,963.0Z" fill="url(#bg18)"/>
</g>
<g opacity="0.94">
<path d="M1115.5,1127.0 C1115.7,1134.6 1116.5,1144.9 1115.9,1150.0 C1115.3,1155.2 1113.2,1155.6 1111.8,1157.8 C1110.5,1159.9 1108.7,1160.9 1107.7,1162.7 C1106.8,1164.4 1106.9,1166.7 1106.0,1168.2 C1105.1,1169.7 1103.9,1171.0 1102.2,1171.7 C1100.5,1172.4 1097.8,1171.8 1095.9,1172.3 C1094.1,1172.8 1092.9,1173.7 1091.3,1174.8 C1089.8,1176.0 1088.9,1178.2 1086.7,1179.1 C1084.5,1180.0 1083.1,1180.1 1077.9,1180.3 C1072.8,1180.5 1063.5,1179.9 1056.0,1180.4 C1048.5,1180.9 1038.5,1182.5 1032.8,1183.3 C1027.1,1184.1 1024.7,1185.2 1021.7,1185.1 C1018.8,1185.0 1017.0,1183.4 1015.0,1182.6 C1012.9,1181.7 1011.4,1180.6 1009.3,1179.9 C1007.3,1179.2 1004.5,1179.4 1002.9,1178.3 C1001.3,1177.2 1000.2,1175.5 999.7,1173.4 C999.2,1171.3 1000.2,1168.1 1000.1,1165.6 C1000.0,1163.1 999.5,1161.1 999.0,1158.4 C998.5,1155.7 997.3,1154.8 997.4,1149.6 C997.5,1144.3 998.8,1134.2 999.7,1127.0 C1000.5,1119.8 1002.2,1111.4 1002.6,1106.5 C1003.1,1101.6 1002.3,1100.1 1002.4,1097.5 C1002.5,1094.8 1002.4,1092.3 1003.2,1090.6 C1004.0,1088.8 1006.2,1088.2 1007.4,1086.9 C1008.5,1085.6 1009.6,1084.5 1010.4,1082.9 C1011.2,1081.3 1011.0,1078.6 1012.1,1077.2 C1013.3,1075.8 1015.1,1074.9 1017.2,1074.4 C1019.3,1073.9 1022.2,1074.7 1024.9,1074.3 C1027.6,1073.8 1028.2,1072.7 1033.3,1072.0 C1038.5,1071.2 1048.4,1069.7 1056.0,1069.6 C1063.6,1069.5 1073.7,1070.7 1078.9,1071.4 C1084.1,1072.1 1084.7,1073.3 1087.5,1073.6 C1090.2,1074.0 1093.2,1073.1 1095.6,1073.4 C1098.0,1073.6 1100.3,1073.9 1101.9,1075.0 C1103.4,1076.0 1103.7,1078.4 1104.8,1079.8 C1105.9,1081.3 1107.1,1082.5 1108.6,1083.7 C1110.1,1084.9 1112.6,1085.4 1113.7,1087.2 C1114.8,1088.9 1115.2,1091.5 1115.2,1094.4 C1115.3,1097.3 1114.2,1099.1 1114.3,1104.6 C1114.3,1110.0 1115.2,1119.4 1115.5,1127.0Z" fill="url(#bg19)"/>
</g>
</g>
<rect x="365.8" y="459.8" width="96.5" height="96.5" fill="#dccbbb" fill-opacity="0.25" stroke="#050505" stroke-width="3.5"/>
<rect x="241.8" y="644.8" width="98.5" height="99.5" fill="#a86b6c" fill-opacity="0.25" stroke="#050505" stroke-width="3.5"/>
<rect x="227.8" y="885.8" width="96.5" height="96.5" fill="#d5b4c8" fill-opacity="0.25" stroke="#050505" stroke-width="3.5"/>
<rect x="359.8" y="1116.8" width="95.5" height="97.5" fill="#c9c5be" fill-opacity="0.25" stroke="#050505" stroke-width="3.5"/>
<rect x="566.8" y="1213.8" width="96.5" height="96.5" fill="#bec8ca" fill-opacity="0.25" stroke="#050505" stroke-width="3.5"/>
<rect x="837.8" y="1213.8" width="97.5" height="96.5" fill="#a9dcc9" fill-opacity="0.25" stroke="#050505" stroke-width="3.5"/>
<rect x="487.8" y="619.8" width="96.5" height="95.5" fill="#ecb1b1" fill-opacity="0.25" stroke="#050505" stroke-width="3.5"/>
<rect x="431.8" y="768.8" width="96.5" height="95.5" fill="#8c7ab2" fill-opacity="0.25" stroke="#050505" stroke-width="3.5"/>
<rect x="463.8" y="947.8" width="96.5" height="96.5" fill="#f8e9d6" fill-opacity="0.25" stroke="#050505" stroke-width="3.5"/>
<rect x="619.8" y="1015.8" width="97.5" height="96.5" fill="#e98a52" fill-opacity="0.25" stroke="#050505" stroke-width="3.5"/>
<rect x="595.8" y="810.8" width="80.5" height="81.5" fill="#74828e" fill-opacity="0.25" stroke="#050505" stroke-width="3.5"/>
<rect x="782.8" y="798.8" width="75.5" height="75.5" fill="#f6d75a" fill-opacity="0.25" stroke="#050505" stroke-width="3.5"/>
<rect x="692.8" y="883.8" width="81.5" height="80.5" fill="#c3e6e8" fill-opacity="0.25" stroke="#050505" stroke-width="3.5"/>
<rect x="909.8" y="662.8" width="96.5" height="96.5" fill="#7e9166" fill-opacity="0.25" stroke="#050505" stroke-width="3.5"/>
<rect x="916.8" y="842.8" width="97.5" height="96.5" fill="#ec4a6c" fill-opacity="0.25" stroke="#050505" stroke-width="3.5"/>
<rect x="840.8" y="971.8" width="96.5" height="96.5" fill="#7f9ca2" fill-opacity="0.25" stroke="#050505" stroke-width="3.5"/>
<rect x="979.8" y="449.8" width="97.5" height="96.5" fill="#f5d85e" fill-opacity="0.25" stroke="#050505" stroke-width="3.5"/>
<rect x="1100.8" y="659.8" width="96.5" height="96.5" fill="#f9977d" fill-opacity="0.25" stroke="#050505" stroke-width="3.5"/>
<rect x="1094.8" y="914.8" width="96.5" height="96.5" fill="#8fa170" fill-opacity="0.25" stroke="#050505" stroke-width="3.5"/>
<rect x="1006.8" y="1078.8" width="98.5" height="97.5" fill="#e3713c" fill-opacity="0.25" stroke="#050505" stroke-width="3.5"/>
<path d="M813.9,872.0 C813.8,874.8 813.3,880.3 813.0,889.0 C812.7,897.7 812.3,910.8 812.0,924.0 C811.7,937.2 812.4,955.2 811.0,968.0 C809.6,980.8 807.5,991.3 803.8,1001.0 C800.1,1010.7 793.7,1019.7 788.6,1026.0 C783.5,1032.3 779.8,1034.3 773.0,1039.0 C766.2,1043.7 756.4,1049.8 748.0,1054.0 C739.6,1058.2 729.4,1061.5 722.7,1064.0 C716.0,1066.5 710.5,1068.2 708.0,1069.0" fill="none" stroke="#111" stroke-width="2.6" stroke-linecap="round" stroke-linejoin="round"/>
<path d="M624.0,892.0 C623.3,895.0 621.7,903.7 620.0,910.0 C618.3,916.3 616.0,924.0 614.0,930.0 C612.0,936.0 610.7,941.7 608.0,946.0 C605.3,950.3 601.0,952.7 598.0,956.0 C595.0,959.3 592.0,962.0 590.0,966.0 C588.0,970.0 587.7,976.7 586.0,980.0 C584.3,983.3 583.7,983.7 580.0,986.0 C576.3,988.3 568.7,992.0 564.0,994.0 C559.3,996.0 554.0,997.3 552.0,998.0" fill="none" stroke="#111" stroke-width="2.6" stroke-linecap="round" stroke-linejoin="round"/>
<path d="M570.7,1102.0 C573.2,1103.7 580.5,1106.9 586.0,1112.0 C591.5,1117.1 599.4,1125.0 603.6,1132.7 C607.8,1140.4 610.6,1149.6 611.0,1158.0 C611.4,1166.4 606.4,1176.2 606.0,1183.0 C605.6,1189.8 607.0,1194.0 608.7,1198.5 C610.4,1203.0 614.8,1208.1 616.0,1210.0" fill="none" stroke="#111" stroke-width="2.6" stroke-linecap="round" stroke-linejoin="round"/>
<path d="M843.0,872.0 C842.9,874.8 841.9,881.8 842.5,889.0 C843.1,896.2 843.8,906.8 846.8,915.0 C849.8,923.2 856.4,931.3 860.7,938.0 C865.0,944.7 869.6,949.2 872.8,955.0 C876.0,960.8 878.4,967.7 879.7,972.5 C881.0,977.3 880.5,982.1 880.6,984.0" fill="none" stroke="#111" stroke-width="2.6" stroke-linecap="round" stroke-linejoin="round"/>
<path d="M855.5,847.7 C857.8,850.2 864.4,857.5 869.0,863.0 C873.6,868.5 878.3,875.2 883.0,880.7 C887.7,886.2 892.0,892.0 897.0,896.0 C902.0,900.0 910.3,903.5 913.0,905.0" fill="none" stroke="#111" stroke-width="2.6" stroke-linecap="round" stroke-linejoin="round"/>
<path d="M783.0,836.7 C779.2,836.1 767.7,834.6 760.0,833.0 C752.3,831.4 742.7,829.8 736.7,827.0 C730.7,824.2 726.5,819.2 724.0,816.0 C721.5,812.8 722.3,809.3 722.0,808.0" fill="none" stroke="#111" stroke-width="2.6" stroke-linecap="round" stroke-linejoin="round"/>
<path d="M595.0,857.0 C591.8,854.2 581.2,846.8 576.0,840.0 C570.8,833.2 567.2,824.0 564.0,816.0 C560.8,808.0 559.3,800.0 557.0,792.0 C554.7,784.0 552.0,775.2 550.0,768.0 C548.0,760.8 546.2,756.7 545.0,749.0 C543.8,741.3 542.9,726.5 542.5,722.0" fill="none" stroke="#111" stroke-width="2.6" stroke-linecap="round" stroke-linejoin="round"/>
<path d="M557.0,773.0 C556.6,774.2 555.3,775.7 554.5,780.0 C553.7,784.3 553.6,794.3 552.0,799.0 C550.4,803.7 548.2,805.3 545.0,808.0 C541.8,810.7 535.0,813.8 533.0,815.0" fill="none" stroke="#111" stroke-width="2.6" stroke-linecap="round" stroke-linejoin="round"/>
<path d="M388.0,740.0 C388.0,748.3 388.0,777.8 388.0,790.0 C388.0,802.2 388.7,803.0 388.0,813.0 C387.3,823.0 385.8,837.5 384.0,850.0 C382.2,862.5 380.1,877.0 377.0,888.0 C373.9,899.0 370.0,909.2 365.6,916.0 C361.2,922.8 356.3,925.8 350.7,929.0 C345.1,932.2 335.1,934.0 332.0,935.0" fill="none" stroke="#111" stroke-width="2.6" stroke-linecap="round" stroke-linejoin="round"/>
<path d="M962.0,752.0 C962.3,753.5 964.0,757.2 964.0,761.0 C964.0,764.8 963.5,769.8 962.0,775.0 C960.5,780.2 954.0,789.7 955.0,792.0 C956.0,794.3 963.0,789.2 968.0,789.0 C973.0,788.8 979.0,789.2 985.0,791.0 C991.0,792.8 997.7,797.3 1004.0,800.0 C1010.3,802.7 1013.7,805.2 1023.0,807.0 C1032.3,808.8 1048.3,810.0 1060.0,811.0 C1071.7,812.0 1083.7,808.0 1093.0,813.0 C1102.3,818.0 1110.2,833.7 1116.0,841.0 C1121.8,848.3 1125.7,848.8 1128.0,857.0 C1130.3,865.2 1129.3,880.8 1130.0,890.0 C1130.7,899.2 1131.7,908.3 1132.0,912.0" fill="none" stroke="#111" stroke-width="2.6" stroke-linecap="round" stroke-linejoin="round"/>
<path d="M838.0,1095.0 C842.7,1096.3 857.3,1100.0 866.0,1103.0 C874.7,1106.0 881.8,1110.0 890.0,1113.0 C898.2,1116.0 910.8,1119.7 915.0,1121.0" fill="none" stroke="#111" stroke-width="2.6" stroke-linecap="round" stroke-linejoin="round"/>
<path d="M712.5,1061.7 L705.0,1070.6 L720.0,1082.0 Z" fill="#111" stroke="#111" stroke-width="2" stroke-linejoin="round"/>
<path d="M558.0,988.0 L549.0,998.0 L566.0,1008.0 Z" fill="#111" stroke="#111" stroke-width="2" stroke-linejoin="round"/>
<path d="M874.5,979.4 L880.6,986.0 L885.0,979.4 Z" fill="#111" stroke="#111" stroke-width="2" stroke-linejoin="round"/>
<path d="M905.7,898.0 L914.0,905.0 L905.7,912.0 Z" fill="#111" stroke="#111" stroke-width="2" stroke-linejoin="round"/>
<path d="M535.0,730.0 L541.5,714.0 L550.0,730.0 Z" fill="#111" stroke="#111" stroke-width="2" stroke-linejoin="round"/>
<path d="M538.0,804.0 L528.0,818.0 L546.0,828.0 Z" fill="#111" stroke="#111" stroke-width="2" stroke-linejoin="round"/>
<path d="M954.0,758.0 L962.0,745.0 L969.0,758.0 Z" fill="#111" stroke="#111" stroke-width="2" stroke-linejoin="round"/>
<path d="M528.0,622.0 C530.3,620.0 538.3,615.3 542.0,610.0 C545.7,604.7 548.7,598.3 550.0,590.0 C551.3,581.7 551.0,570.0 550.0,560.0 C549.0,550.0 547.3,539.3 544.0,530.0 C540.7,520.7 535.0,510.3 530.0,504.0 C525.0,497.7 520.0,494.7 514.0,492.0 C508.0,489.3 500.0,488.0 494.0,488.0 C488.0,488.0 482.7,490.3 478.0,492.0 C473.3,493.7 469.7,496.0 466.0,498.0 C462.3,500.0 457.7,503.0 456.0,504.0" fill="none" stroke="#22a5df" stroke-width="4" stroke-linecap="round" stroke-linejoin="round"/>
<path d="M306.8,748.0 C306.3,751.1 304.1,760.5 304.0,766.7 C303.9,772.9 304.5,778.8 306.0,785.0 C307.5,791.2 309.3,799.0 313.0,804.0 C316.7,809.0 321.7,813.2 328.0,815.0 C334.3,816.8 343.2,814.7 350.7,815.0 C358.2,815.3 366.8,815.4 373.0,817.0 C379.2,818.6 383.7,821.4 388.0,824.5 C392.3,827.6 395.0,831.3 399.0,835.7 C403.0,840.1 407.7,845.2 412.0,850.7 C416.3,856.2 420.7,862.8 425.0,869.0 C429.3,875.2 432.8,881.8 438.0,888.0 C443.2,894.2 453.0,903.0 456.0,906.0" fill="none" stroke="#22a5df" stroke-width="4" stroke-linecap="round" stroke-linejoin="round"/>
<path d="M473.0,864.0 C472.2,866.8 470.0,874.7 468.0,880.5 C466.0,886.3 463.3,893.8 460.8,899.0 C458.3,904.2 455.5,907.8 453.0,912.0 C450.5,916.2 448.8,918.7 446.0,924.0 C443.2,929.3 438.2,938.0 436.0,944.0 C433.8,950.0 433.0,955.7 433.0,960.0 C433.0,964.3 435.2,964.0 436.0,970.0 C436.8,976.0 438.7,987.7 438.0,996.0 C437.3,1004.3 435.7,1012.7 432.0,1020.0 C428.3,1027.3 421.3,1033.3 416.0,1040.0 C410.7,1046.7 404.0,1053.3 400.0,1060.0 C396.0,1066.7 393.0,1074.0 392.0,1080.0 C391.0,1086.0 392.3,1091.7 394.0,1096.0 C395.7,1100.3 399.8,1103.0 402.0,1106.0 C404.2,1109.0 406.2,1112.7 407.0,1114.0" fill="none" stroke="#22a5df" stroke-width="4" stroke-linecap="round" stroke-linejoin="round"/>
<path d="M433.0,956.0 C430.8,955.3 424.2,952.7 420.0,952.0 C415.8,951.3 412.7,950.7 408.0,952.0 C403.3,953.3 396.7,957.0 392.0,960.0 C387.3,963.0 383.7,965.0 380.0,970.0 C376.3,975.0 374.0,983.0 370.0,990.0 C366.0,997.0 361.0,1006.0 356.0,1012.0 C351.0,1018.0 346.0,1022.3 340.0,1026.0 C334.0,1029.7 326.5,1032.7 320.0,1034.0 C313.5,1035.3 306.2,1035.8 301.0,1033.6 C295.8,1031.4 292.0,1026.5 288.7,1021.0 C285.4,1015.5 282.9,1006.4 281.0,1000.7 C279.1,995.0 277.7,989.3 277.0,987.0" fill="none" stroke="#22a5df" stroke-width="4" stroke-linecap="round" stroke-linejoin="round"/>
<path d="M318.0,1036.0 C317.3,1040.7 314.2,1053.0 314.0,1064.0 C313.8,1075.0 314.0,1089.3 316.5,1102.0 C319.0,1114.7 325.2,1127.3 329.0,1140.0 C332.8,1152.7 335.2,1165.3 339.0,1178.0 C342.8,1190.7 345.7,1206.3 352.0,1216.0 C358.3,1225.7 366.5,1230.5 377.0,1236.0 C387.5,1241.5 402.3,1246.0 415.0,1249.0 C427.7,1252.0 438.2,1252.7 453.0,1254.0 C467.8,1255.3 487.1,1256.1 504.0,1256.6 C521.0,1257.1 546.2,1256.9 554.7,1257.0" fill="none" stroke="#22a5df" stroke-width="4" stroke-linecap="round" stroke-linejoin="round"/>
<path d="M506.6,1046.0 C506.8,1049.0 507.0,1054.7 507.8,1064.0 C508.6,1073.3 510.6,1090.7 511.6,1102.0 C512.6,1113.3 514.4,1123.5 514.0,1132.0 C513.6,1140.5 512.8,1146.4 509.0,1152.7 C505.2,1159.0 498.1,1164.5 491.4,1170.0 C484.7,1175.5 474.2,1182.3 468.6,1185.6 C463.0,1188.9 459.8,1189.3 458.0,1190.0" fill="none" stroke="#22a5df" stroke-width="4" stroke-linecap="round" stroke-linejoin="round"/>
<path d="M669.5,1111.0 C670.8,1113.8 674.1,1121.4 677.0,1127.6 C679.9,1133.8 683.7,1142.1 687.0,1148.0 C690.3,1153.9 694.5,1157.2 697.0,1163.0 C699.5,1168.8 700.2,1175.4 702.0,1183.0 C703.8,1190.6 704.5,1200.2 707.5,1208.7 C710.5,1217.2 715.4,1226.0 720.0,1234.0 C724.6,1242.0 728.2,1250.2 735.0,1257.0 C741.8,1263.8 750.1,1270.7 760.7,1274.5 C771.3,1278.3 788.2,1279.6 798.7,1279.6 C809.2,1279.6 818.1,1275.4 824.0,1274.5 C829.9,1273.6 832.3,1274.1 834.0,1274.0" fill="none" stroke="#22a5df" stroke-width="4" stroke-linecap="round" stroke-linejoin="round"/>
<path d="M675.0,1118.0 C677.5,1123.3 686.0,1139.7 690.0,1150.0 C694.0,1160.3 697.5,1169.2 699.0,1180.0 C700.5,1190.8 700.5,1205.0 699.0,1215.0 C697.5,1225.0 694.0,1232.2 690.0,1240.0 C686.0,1247.8 680.0,1256.0 675.0,1262.0 C670.0,1268.0 662.5,1273.7 660.0,1276.0" fill="none" stroke="#22a5df" stroke-width="4" stroke-linecap="round" stroke-linejoin="round"/>
<path d="M985.0,939.0 C983.8,942.5 979.2,951.0 977.5,960.0 C975.8,969.0 974.8,981.2 975.0,993.0 C975.2,1004.8 977.3,1019.5 979.0,1031.0 C980.7,1042.5 984.7,1052.7 985.0,1062.0 C985.3,1071.3 981.7,1079.5 981.0,1087.0 C980.3,1094.5 979.2,1101.1 981.0,1107.0 C982.8,1112.9 987.3,1119.5 991.5,1122.5 C995.7,1125.5 1003.6,1124.6 1006.0,1125.0" fill="none" stroke="#22a5df" stroke-width="4" stroke-linecap="round" stroke-linejoin="round"/>
<path d="M929.0,1026.0 C931.8,1023.5 938.2,1014.3 946.0,1011.0 C953.8,1007.7 965.9,1006.0 976.0,1006.0 C986.1,1006.0 996.5,1008.5 1006.7,1011.0 C1016.9,1013.5 1026.5,1017.2 1037.0,1021.0 C1047.5,1024.8 1059.0,1030.6 1070.0,1034.0 C1081.0,1037.4 1092.5,1040.2 1103.0,1041.5 C1113.5,1042.8 1125.0,1042.8 1133.0,1041.5 C1141.0,1040.2 1147.6,1038.2 1151.0,1034.0 C1154.4,1029.8 1154.0,1019.8 1153.6,1016.0 C1153.2,1012.2 1149.4,1011.8 1148.6,1011.0" fill="none" stroke="#22a5df" stroke-width="4" stroke-linecap="round" stroke-linejoin="round"/>
<path d="M1118.0,1041.5 C1119.3,1044.0 1123.2,1050.0 1125.7,1056.7 C1128.2,1063.5 1131.8,1072.8 1133.0,1082.0 C1134.2,1091.2 1134.2,1101.5 1133.0,1112.0 C1131.8,1122.5 1129.9,1133.5 1125.7,1145.0 C1121.5,1156.5 1117.3,1171.2 1108.0,1181.0 C1098.7,1190.8 1082.7,1196.9 1070.0,1203.6 C1057.3,1210.3 1046.8,1214.7 1032.0,1221.0 C1017.2,1227.3 995.8,1235.6 981.0,1241.6 C966.2,1247.6 952.3,1253.4 943.0,1256.8 C933.7,1260.2 928.0,1261.1 925.0,1262.0" fill="none" stroke="#22a5df" stroke-width="4" stroke-linecap="round" stroke-linejoin="round"/>
<path d="M1068.0,545.0 C1070.2,548.3 1077.8,557.0 1081.0,565.0 C1084.2,573.0 1086.2,583.2 1087.0,593.0 C1087.8,602.8 1087.8,614.7 1086.0,624.0 C1084.2,633.3 1080.3,642.0 1076.0,649.0 C1071.7,656.0 1065.3,661.3 1060.0,666.0 C1054.7,670.7 1048.3,672.3 1044.0,677.0 C1039.7,681.7 1036.2,686.5 1034.0,694.0 C1031.8,701.5 1031.5,711.5 1031.0,722.0 C1030.5,732.5 1030.8,748.2 1031.0,757.0 C1031.2,765.8 1031.8,772.0 1032.0,775.0" fill="none" stroke="#22a5df" stroke-width="4" stroke-linecap="round" stroke-linejoin="round"/>
<path d="M976.8,851.0 C976.5,848.3 974.1,840.5 975.0,834.7 C975.9,828.9 978.6,822.3 982.0,816.0 C985.4,809.7 991.4,802.3 995.5,797.0 C999.6,791.7 1001.8,787.3 1006.7,784.0 C1011.6,780.7 1020.3,778.5 1025.0,777.0 C1029.7,775.5 1028.4,775.0 1034.7,775.0 C1041.0,775.0 1055.0,776.2 1062.7,776.8 C1070.4,777.4 1074.8,778.7 1081.0,778.7 C1087.2,778.7 1094.7,778.2 1100.0,776.8 C1105.3,775.3 1109.5,772.8 1113.0,770.0 C1116.5,767.2 1119.7,761.7 1121.0,760.0" fill="none" stroke="#22a5df" stroke-width="4" stroke-linecap="round" stroke-linejoin="round"/>
<path d="M999.0,900.0 C1000.5,897.0 1003.7,887.0 1008.0,882.0 C1012.3,877.0 1017.8,873.4 1025.0,870.0 C1032.2,866.6 1043.7,863.3 1051.0,861.6 C1058.3,859.9 1062.8,859.8 1068.6,860.0 C1074.4,860.2 1081.4,860.7 1086.0,863.0 C1090.6,865.3 1093.4,869.7 1096.0,874.0 C1098.6,878.3 1100.1,883.5 1101.6,889.0 C1103.1,894.5 1103.9,902.4 1105.0,906.7 C1106.1,911.0 1107.5,913.6 1108.0,915.0" fill="none" stroke="#22a5df" stroke-width="4" stroke-linecap="round" stroke-linejoin="round"/>
<path d="M466.0,494.0 L454.0,504.0 L458.0,518.0 Z" fill="#22a5df" stroke="#22a5df" stroke-width="4" stroke-linejoin="round"/>
<path d="M296.5,755.5 L306.8,742.4 L319.0,756.4 Z" fill="#22a5df" stroke="#22a5df" stroke-width="4" stroke-linejoin="round"/>
<path d="M397.6,1112.0 L410.0,1104.5 L407.7,1119.7 Z" fill="#22a5df" stroke="#22a5df" stroke-width="4" stroke-linejoin="round"/>
<path d="M268.0,994.0 L276.0,981.0 L288.0,990.0 Z" fill="#22a5df" stroke="#22a5df" stroke-width="4" stroke-linejoin="round"/>
<path d="M548.0,1250.0 L562.0,1258.0 L548.0,1266.0 Z" fill="#22a5df" stroke="#22a5df" stroke-width="4" stroke-linejoin="round"/>
<path d="M450.8,1185.6 L461.0,1183.0 L457.0,1199.6 Z" fill="#22a5df" stroke="#22a5df" stroke-width="4" stroke-linejoin="round"/>
<path d="M821.5,1264.0 L838.0,1275.0 L824.0,1287.0 Z" fill="#22a5df" stroke="#22a5df" stroke-width="4" stroke-linejoin="round"/>
<path d="M996.5,1112.0 L1009.0,1125.0 L999.0,1135.0 Z" fill="#22a5df" stroke="#22a5df" stroke-width="4" stroke-linejoin="round"/>
<path d="M928.0,1251.8 L920.5,1264.4 L938.0,1274.6 Z" fill="#22a5df" stroke="#22a5df" stroke-width="4" stroke-linejoin="round"/>
<path d="M1058.0,548.0 L1067.0,538.0 L1076.0,549.0 Z" fill="#22a5df" stroke="#22a5df" stroke-width="4" stroke-linejoin="round"/>
<path d="M1111.0,759.0 L1125.0,753.0 L1122.0,764.0 Z" fill="#22a5df" stroke="#22a5df" stroke-width="4" stroke-linejoin="round"/>
<path d="M1100.0,913.0 L1110.0,918.0 L1112.0,906.0 Z" fill="#22a5df" stroke="#22a5df" stroke-width="4" stroke-linejoin="round"/>
<path d="M713.0,886.0 C715.5,881.3 725.0,867.3 728.0,858.0 C731.0,848.7 732.7,838.2 731.0,830.0 C729.3,821.8 724.2,814.8 718.0,809.0 C711.8,803.2 703.7,798.5 694.0,795.0 C684.3,791.5 675.7,790.5 660.0,788.0 C644.3,785.5 616.0,783.3 600.0,780.0 C584.0,776.7 576.0,773.0 564.0,768.0 C552.0,763.0 540.0,754.8 528.0,750.0 C516.0,745.2 506.0,741.0 492.0,739.0 C478.0,737.0 458.0,738.3 444.0,738.0 C430.0,737.7 420.0,738.3 408.0,737.0 C396.0,735.7 382.0,733.8 372.0,730.0 C362.0,726.2 353.7,717.8 348.0,714.0 C342.3,710.2 339.7,708.2 338.0,707.0" fill="none" stroke="#ea0c3b" stroke-width="10" stroke-linecap="round" stroke-linejoin="round"/>
<path d="M400.0,737.0 C405.7,736.3 425.7,735.5 434.0,733.0 C442.3,730.5 446.3,727.0 450.0,722.0 C453.7,717.0 455.3,710.2 456.0,703.0 C456.7,695.8 456.8,687.0 454.0,679.0 C451.2,671.0 444.7,662.5 439.0,655.0 C433.3,647.5 426.3,641.2 420.0,634.0 C413.7,626.8 405.3,619.7 401.0,612.0 C396.7,604.3 394.8,596.0 394.0,588.0 C393.2,580.0 394.8,570.5 396.0,564.0 C397.2,557.5 400.2,551.5 401.0,549.0" fill="none" stroke="#ea0c3b" stroke-width="10" stroke-linecap="round" stroke-linejoin="round"/>
<path d="M392.0,737.0 C390.7,740.3 385.9,747.3 384.0,757.0 C382.1,766.7 381.4,782.5 380.5,795.0 C379.6,807.5 379.3,820.2 378.7,832.0 C378.1,843.8 378.3,856.7 377.0,866.0 C375.7,875.3 373.8,881.8 371.0,888.0 C368.2,894.2 364.7,898.7 360.0,903.0 C355.3,907.3 347.7,910.8 343.0,914.0 C338.3,917.2 336.0,919.2 332.0,922.0 C328.0,924.8 321.2,929.5 319.0,931.0" fill="none" stroke="#ea0c3b" stroke-width="10" stroke-linecap="round" stroke-linejoin="round"/>
<path d="M379.0,856.0 C380.5,857.7 384.7,861.3 388.0,866.0 C391.3,870.7 395.9,877.2 399.0,884.0 C402.1,890.8 405.1,898.7 406.7,907.0 C408.3,915.3 408.8,925.7 408.5,934.0 C408.2,942.3 407.0,950.2 404.8,957.0 C402.6,963.8 399.0,968.8 395.5,975.0 C392.0,981.2 387.9,987.2 384.0,994.0 C380.1,1000.8 375.2,1008.3 372.0,1016.0 C368.8,1023.7 366.7,1031.0 365.0,1040.0 C363.3,1049.0 361.2,1060.7 362.0,1070.0 C362.8,1079.3 367.5,1088.2 370.0,1096.0 C372.5,1103.8 375.8,1113.5 377.0,1117.0" fill="none" stroke="#ea0c3b" stroke-width="10" stroke-linecap="round" stroke-linejoin="round"/>
<path d="M819.7,795.0 C819.2,788.7 816.3,769.2 817.0,757.0 C817.7,744.8 820.0,731.8 824.0,722.0 C828.0,712.2 834.7,706.2 841.0,698.0 C847.3,689.8 854.7,681.2 862.0,673.0 C869.3,664.8 877.3,656.8 885.0,649.0 C892.7,641.2 900.2,633.0 908.0,626.0 C915.8,619.0 923.8,612.5 932.0,607.0 C940.2,601.5 950.0,598.3 957.0,593.0 C964.0,587.7 969.3,581.5 974.0,575.0 C978.7,568.5 981.7,560.5 985.0,554.0 C988.3,547.5 992.5,539.0 994.0,536.0" fill="none" stroke="#ea0c3b" stroke-width="10" stroke-linecap="round" stroke-linejoin="round"/>
<path d="M845.0,829.0 C849.7,829.3 862.5,832.5 873.0,831.0 C883.5,829.5 898.2,824.7 908.0,820.0 C917.8,815.3 924.2,807.5 932.0,803.0 C939.8,798.5 947.3,794.8 955.0,793.0 C962.7,791.2 970.2,791.0 978.0,792.0 C985.8,793.0 994.2,796.9 1002.0,799.0 C1009.8,801.1 1015.3,803.0 1025.0,804.5 C1034.7,806.0 1048.3,807.4 1060.0,808.0 C1071.7,808.6 1085.3,809.5 1095.0,808.0 C1104.7,806.5 1111.3,803.3 1118.0,799.0 C1124.7,794.7 1130.7,787.8 1135.0,782.0 C1139.3,776.2 1142.2,768.7 1144.0,764.0 C1145.8,759.3 1145.7,755.7 1146.0,754.0" fill="none" stroke="#ea0c3b" stroke-width="10" stroke-linecap="round" stroke-linejoin="round"/>
<path d="M1093.0,809.0 C1096.0,812.7 1106.3,823.8 1111.0,831.0 C1115.7,838.2 1118.3,844.7 1121.0,852.0 C1123.7,859.3 1125.5,867.0 1127.0,875.0 C1128.5,883.0 1129.0,892.8 1130.0,900.0 C1131.0,907.2 1132.5,915.0 1133.0,918.0" fill="none" stroke="#ea0c3b" stroke-width="10" stroke-linecap="round" stroke-linejoin="round"/>
<path d="M689.7,935.0 C687.6,937.5 682.5,944.5 677.0,950.0 C671.5,955.5 664.6,962.5 657.0,968.0 C649.4,973.5 640.0,979.2 631.5,983.0 C623.0,986.8 613.2,988.8 606.0,991.0 C598.8,993.2 591.2,993.5 588.0,996.0 C584.8,998.5 587.3,1000.2 587.0,1006.0 C586.7,1011.8 586.8,1022.5 586.0,1031.0 C585.2,1039.5 583.5,1048.5 582.0,1057.0 C580.5,1065.5 579.7,1075.3 577.0,1082.0 C574.3,1088.7 570.9,1094.0 565.6,1097.0 C560.3,1100.0 551.1,1099.2 545.0,1100.0 C538.9,1100.8 538.0,1099.5 529.0,1102.0 C520.0,1104.5 501.5,1110.5 491.0,1114.7 C480.5,1118.9 473.3,1123.1 466.0,1127.0 C458.7,1130.9 450.2,1136.2 447.0,1138.0" fill="none" stroke="#ea0c3b" stroke-width="10" stroke-linecap="round" stroke-linejoin="round"/>
<path d="M750.5,965.5 C751.8,968.9 754.6,977.3 758.0,985.7 C761.4,994.1 766.3,1006.3 771.0,1016.0 C775.7,1025.7 781.4,1034.7 786.0,1044.0 C790.6,1053.3 794.5,1062.3 798.7,1072.0 C802.9,1081.7 807.2,1091.9 811.0,1102.0 C814.8,1112.1 818.1,1122.5 821.5,1132.7 C824.9,1142.9 828.7,1153.8 831.6,1163.0 C834.5,1172.2 836.8,1180.2 839.0,1188.0 C841.2,1195.8 844.0,1206.3 845.0,1210.0" fill="none" stroke="#ea0c3b" stroke-width="10" stroke-linecap="round" stroke-linejoin="round"/>
<path d="M798.0,1104.0 C800.3,1103.3 806.7,1100.8 812.0,1100.0 C817.3,1099.2 824.2,1098.8 830.0,1099.0 C835.8,1099.2 838.7,1099.2 847.0,1101.0 C855.3,1102.8 869.0,1106.3 880.0,1110.0 C891.0,1113.7 901.8,1119.2 913.0,1123.0 C924.2,1126.8 935.8,1129.7 947.0,1133.0 C958.2,1136.3 971.0,1140.5 980.0,1143.0 C989.0,1145.5 997.5,1147.2 1001.0,1148.0" fill="none" stroke="#ea0c3b" stroke-width="10" stroke-linecap="round" stroke-linejoin="round"/>
<path d="M800.0,1102.0 C798.8,1104.5 796.2,1109.8 793.0,1117.0 C789.8,1124.2 786.0,1134.0 781.0,1145.0 C776.0,1156.0 768.5,1171.5 763.0,1183.0 C757.5,1194.5 753.5,1204.9 748.0,1213.8 C742.5,1222.7 737.2,1230.7 730.0,1236.6 C722.8,1242.5 713.8,1245.3 705.0,1249.0 C696.2,1252.7 684.7,1256.0 677.0,1259.0 C669.3,1262.0 662.0,1265.7 659.0,1267.0" fill="none" stroke="#ea0c3b" stroke-width="10" stroke-linecap="round" stroke-linejoin="round"/>
<path d="M334.0,722.0 L337.0,705.0 L353.0,706.0" fill="none" stroke="#ea0c3b" stroke-width="10" stroke-linecap="round" stroke-linejoin="round"/>
<path d="M384.0,562.0 L401.0,547.0 L412.0,569.0" fill="none" stroke="#ea0c3b" stroke-width="10" stroke-linecap="round" stroke-linejoin="round"/>
<path d="M325.0,919.0 L316.0,931.0 L332.0,942.0" fill="none" stroke="#ea0c3b" stroke-width="10" stroke-linecap="round" stroke-linejoin="round"/>
<path d="M367.0,1110.0 L378.0,1119.0 L389.0,1108.0" fill="none" stroke="#ea0c3b" stroke-width="10" stroke-linecap="round" stroke-linejoin="round"/>
<path d="M978.0,542.0 L995.0,533.0 L1004.0,549.0" fill="none" stroke="#ea0c3b" stroke-width="10" stroke-linecap="round" stroke-linejoin="round"/>
<path d="M1130.0,766.0 L1146.0,752.0 L1156.0,762.0" fill="none" stroke="#ea0c3b" stroke-width="10" stroke-linecap="round" stroke-linejoin="round"/>
<path d="M1122.0,909.0 L1134.0,921.0 L1145.0,909.0" fill="none" stroke="#ea0c3b" stroke-width="10" stroke-linecap="round" stroke-linejoin="round"/>
<path d="M453.0,1120.0 L444.0,1137.0 L466.0,1145.0" fill="none" stroke="#ea0c3b" stroke-width="10" stroke-linecap="round" stroke-linejoin="round"/>
<path d="M827.0,1201.0 L846.0,1213.0 L854.0,1195.0" fill="none" stroke="#ea0c3b" stroke-width="10" stroke-linecap="round" stroke-linejoin="round"/>
<path d="M986.0,1133.0 L1004.0,1148.0 L984.0,1160.0" fill="none" stroke="#ea0c3b" stroke-width="10" stroke-linecap="round" stroke-linejoin="round"/>
<path d="M667.0,1252.0 L657.0,1267.0 L674.0,1287.0" fill="none" stroke="#ea0c3b" stroke-width="10" stroke-linecap="round" stroke-linejoin="round"/>
<path d="M46,1151 C60,1148 80,1148 100,1149" fill="none" stroke="#111" stroke-width="3" stroke-linecap="round"/>
<path d="M96,1136 L122,1148 L98,1170 Z" fill="#111" stroke="#111" stroke-width="3" stroke-linejoin="round"/>
<path d="M55,1293 C80,1291 110,1291 140,1290" fill="none" stroke="#e80f3c" stroke-width="11" stroke-linecap="round"/>
<path d="M137,1268 L172,1286 L137,1305 Z" fill="#e80f3c" stroke="#ea0c3b" stroke-width="10" stroke-linejoin="round"/>
<path d="M66,1395 C90,1393 120,1390 150,1388" fill="none" stroke="#22a5df" stroke-width="4" stroke-linecap="round"/>
<path d="M143,1378 L162,1388 L145,1401 Z" fill="#2aa4de" stroke="#2aa4de" stroke-width="4" stroke-linejoin="round"/>
<circle cx="1344" cy="415" r="7" fill="#143a6b"/>
<circle cx="1351" cy="539" r="7" fill="#143a6b"/>
<circle cx="1344" cy="630" r="7" fill="#143a6b"/>
<circle cx="1340" cy="725" r="7" fill="#143a6b"/>
<circle cx="1335" cy="835" r="7" fill="#143a6b"/>
<circle cx="1340" cy="1000" r="7" fill="#143a6b"/>
<circle cx="1340" cy="1189" r="7" fill="#143a6b"/>
<circle cx="1334" cy="1361" r="8" fill="#e8103c"/>
<text x="287.2" y="126.8" font-size="118.6" textLength="304.3" lengthAdjust="spacingAndGlyphs" fill="#000" stroke="#f4f3ef" stroke-width="2.2" paint-order="normal"><tspan font-size="118.6" stroke-width="4.6">C</tspan><tspan font-size="71.2" stroke-width="2.0">urrent</tspan></text>
<text x="628.6" y="137.2" font-size="112.2" textLength="491.1" lengthAdjust="spacingAndGlyphs" fill="#000" stroke="#f4f3ef" stroke-width="2.2" paint-order="normal"><tspan font-size="112.2" stroke-width="4.6">E</tspan><tspan font-size="81.9" stroke-width="2.0">nrichment</tspan></text>
<text x="406.8" y="233.9" font-size="110.2" textLength="507.4" lengthAdjust="spacingAndGlyphs" fill="#000" stroke="#f4f3ef" stroke-width="2.2" paint-order="normal"><tspan font-size="110.2" stroke-width="4.6">S</tspan><tspan font-size="82.6" stroke-width="2.0">tructure</tspan></text>
<text x="1351.0" y="226.9" font-size="111.6" textLength="386.8" lengthAdjust="spacingAndGlyphs" fill="#12346a" ><tspan font-size="111.6">C</tspan><tspan font-size="89.3">urrent</tspan></text>
<text x="1429.0" y="331.0" font-size="98.9" textLength="308.9" lengthAdjust="spacingAndGlyphs" fill="#12346a" ><tspan font-size="98.9">State</tspan></text>
<text x="1358.0" y="446.6" font-size="73.5" textLength="151.0" lengthAdjust="spacingAndGlyphs" fill="#143a6b" stroke="#143a6b" stroke-width="1.0"><tspan font-size="73.5">D</tspan><tspan font-size="44.1">ata</tspan></text>
<text x="1532.1" y="447.5" font-size="76.3" textLength="262.1" lengthAdjust="spacingAndGlyphs" fill="#143a6b" stroke="#143a6b" stroke-width="1.0"><tspan font-size="76.3">D</tspan><tspan font-size="45.8">uplicated</tspan></text>
<text x="1367.7" y="559.3" font-size="69.2" textLength="154.8" lengthAdjust="spacingAndGlyphs" fill="#143a6b" stroke="#143a6b" stroke-width="1.0"><tspan font-size="69.2">S</tspan><tspan font-size="41.5">tale</tspan></text>
<g transform="translate(1554.3,0) scale(1.450,1)"><text x="0" y="558.7" font-size="56.2" textLength="90.1" lengthAdjust="spacing" fill="#143a6b" stroke="#143a6b" stroke-width="1.0"><tspan font-size="56.2">D</tspan><tspan font-size="33.7">ata</tspan></text></g>
<text x="1361.5" y="649.6" font-size="69.2" textLength="83.5" lengthAdjust="spacingAndGlyphs" fill="#143a6b" stroke="#143a6b" stroke-width="1.0"><tspan font-size="69.2">N</tspan><tspan font-size="41.5">o</tspan></text>
<text x="1477.0" y="652.5" font-size="52.3" textLength="299.4" lengthAdjust="spacingAndGlyphs" fill="#143a6b" stroke="#143a6b" stroke-width="1.0"><tspan font-size="52.3">G</tspan><tspan font-size="47.0">overnance</tspan></text>
<text x="1353.2" y="746.6" font-size="61.9" textLength="189.9" lengthAdjust="spacingAndGlyphs" fill="#143a6b" stroke="#143a6b" stroke-width="1.0"><tspan font-size="61.9">M</tspan><tspan font-size="40.3">assive</tspan></text>
<text x="1562.6" y="748.9" font-size="71.1" textLength="181.5" lengthAdjust="spacingAndGlyphs" fill="#143a6b" stroke="#143a6b" stroke-width="1.0"><tspan font-size="71.1">T</tspan><tspan font-size="53.3">angled</tspan></text>
<text x="1764.3" y="749.5" font-size="48.0" textLength="219.6" lengthAdjust="spacingAndGlyphs" fill="#143a6b" stroke="#143a6b" stroke-width="1.0"><tspan font-size="48.0">S</tspan><tspan font-size="40.8">chemas</tspan></text>
<text x="1348.7" y="857.5" font-size="79.2" textLength="205.1" lengthAdjust="spacingAndGlyphs" fill="#143a6b" stroke="#143a6b" stroke-width="1.0"><tspan font-size="79.2">L</tspan><tspan font-size="51.5">imited</tspan></text>
<text x="1583.5" y="862.3" font-size="72.0" textLength="189.0" lengthAdjust="spacingAndGlyphs" fill="#143a6b" stroke="#143a6b" stroke-width="1.0"><tspan font-size="72.0">S</tspan><tspan font-size="50.4">ource</tspan></text>
<text x="1347.0" y="928.3" font-size="73.4" textLength="216.9" lengthAdjust="spacingAndGlyphs" fill="#143a6b" stroke="#143a6b" stroke-width="1.0"><tspan font-size="73.4">C</tspan><tspan font-size="44.1">ontrol</tspan></text>
<g transform="translate(1360.5,0) scale(1.450,1)"><text x="0" y="1026.6" font-size="63.4" textLength="70.2" lengthAdjust="spacing" fill="#143a6b" stroke="#143a6b" stroke-width="1.0"><tspan font-size="63.4">N</tspan><tspan font-size="38.0">o</tspan></text></g>
<text x="1365.9" y="1096.5" font-size="90.8" textLength="425.9" lengthAdjust="spacingAndGlyphs" fill="#143a6b" stroke="#143a6b" stroke-width="1.0"><tspan font-size="90.8">D</tspan><tspan font-size="54.5">ocumentation</tspan></text>
<text x="1348.7" y="1215.5" font-size="83.6" textLength="370.8" lengthAdjust="spacingAndGlyphs" fill="#143a6b" stroke="#143a6b" stroke-width="1.0"><tspan font-size="83.6">I</tspan><tspan font-size="50.2">nconsistent</tspan></text>
<text x="1359.7" y="1288.5" font-size="79.3" textLength="228.5" lengthAdjust="spacingAndGlyphs" fill="#143a6b" stroke="#143a6b" stroke-width="1.0"><tspan font-size="79.3">M</tspan><tspan font-size="47.6">etrics</tspan></text>
<text x="1360.7" y="1384.3" font-size="86.2" textLength="155.1" lengthAdjust="spacingAndGlyphs" fill="#e8103c" stroke="#e8103c" stroke-width="1.0"><tspan font-size="86.2">R</tspan><tspan font-size="69.0">aw</tspan></text>
<text x="1574.6" y="1384.1" font-size="115.0" textLength="209.4" lengthAdjust="spacingAndGlyphs" fill="#e8103c" stroke="#e8103c" stroke-width="1.0"><tspan font-size="115.0">D</tspan><tspan font-size="92.0">ata</tspan></text>
<text x="1381.1" y="1466.9" font-size="84.3" textLength="260.0" lengthAdjust="spacingAndGlyphs" fill="#e8103c" stroke="#e8103c" stroke-width="1.0"><tspan font-size="84.3">S</tspan><tspan font-size="63.2">kipping</tspan></text>
<g transform="translate(1672.8,0) scale(1.100,1)"><text x="0" y="1456.3" font-size="83.3" textLength="150.6" lengthAdjust="spacing" fill="#e8103c" stroke="#e8103c" stroke-width="1.0"><tspan font-size="70.8">line</tspan></text></g>
<text x="574.6" y="379.5" font-size="83.6" textLength="333.0" lengthAdjust="spacingAndGlyphs" fill="#fa4a2c" ><tspan font-size="83.6">V</tspan><tspan font-size="50.2">isualization</tspan></text>
<text x="661.0" y="461.5" font-size="82.2" textLength="123.5" lengthAdjust="spacingAndGlyphs" fill="#fa4a2c" ><tspan font-size="82.2">T</tspan><tspan font-size="49.3">ool</tspan></text>
<text x="639.6" y="567.5" font-size="89.3" textLength="194.3" lengthAdjust="spacingAndGlyphs" fill="#1f8bd6" ><tspan font-size="89.3">D</tspan><tspan font-size="55.4">atabase</tspan></text>
<text x="610.7" y="625.6" font-size="66.3" textLength="279.7" lengthAdjust="spacingAndGlyphs" fill="#1f8bd6" ><tspan font-size="66.3">T</tspan><tspan font-size="41.1">ransformations</tspan></text>
<text x="666.4" y="735.6" font-size="60.4" textLength="110.5" lengthAdjust="spacingAndGlyphs" fill="#000" stroke="#000" stroke-width="1.5"><tspan font-size="60.4">R</tspan><tspan font-size="42.3">aw</tspan></text>
<text x="677.8" y="780.7" font-size="47.5" textLength="108.2" lengthAdjust="spacingAndGlyphs" fill="#000" stroke="#000" stroke-width="1.5"><tspan font-size="47.5">D</tspan><tspan font-size="33.2">ata</tspan></text>
<text x="134.8" y="1142.7" font-size="41.6" textLength="70.1" lengthAdjust="spacingAndGlyphs" fill="#111" stroke="#f4f3ef" stroke-width="0.8"><tspan font-size="41.6">R</tspan><tspan font-size="35.4">aw</tspan></text>
<text x="135.8" y="1171.8" font-size="28.7" textLength="73.2" lengthAdjust="spacingAndGlyphs" fill="#111" stroke="#f4f3ef" stroke-width="0.8"><tspan font-size="28.7">D</tspan><tspan font-size="24.4">ata</tspan></text>
<text x="109.6" y="1213.6" font-size="46.0" textLength="172.3" lengthAdjust="spacingAndGlyphs" fill="#111" stroke="#f4f3ef" stroke-width="0.8"><tspan font-size="39.1">to&#160;</tspan><tspan font-size="46.0">E</tspan><tspan font-size="39.1">nrichments</tspan></text>
<text x="194.2" y="1279.6" font-size="44.5" textLength="141.8" lengthAdjust="spacingAndGlyphs" fill="#111" stroke="#f4f3ef" stroke-width="0.8"><tspan font-size="44.5">R</tspan><tspan font-size="37.8">aw.&#160;</tspan><tspan font-size="44.5">D</tspan><tspan font-size="37.8">ata</tspan></text>
<text x="189.5" y="1316.7" font-size="46.9" textLength="113.4" lengthAdjust="spacingAndGlyphs" fill="#111" stroke="#f4f3ef" stroke-width="0.8"><tspan font-size="46.9">S</tspan><tspan font-size="39.8">kipping</tspan></text>
<text x="193.3" y="1346.6" font-size="44.5" textLength="159.7" lengthAdjust="spacingAndGlyphs" fill="#111" stroke="#f4f3ef" stroke-width="0.8"><tspan font-size="44.5">E</tspan><tspan font-size="37.8">nrichments</tspan></text>
<text x="184.5" y="1402.7" font-size="40.2" textLength="161.8" lengthAdjust="spacingAndGlyphs" fill="#111" stroke="#f4f3ef" stroke-width="0.8"><tspan font-size="40.2">D</tspan><tspan font-size="34.2">ata&#160;from</tspan></text>
<text x="192.8" y="1442.7" font-size="35.9" textLength="186.4" lengthAdjust="spacingAndGlyphs" fill="#111" stroke="#f4f3ef" stroke-width="0.8"><tspan font-size="35.9">E</tspan><tspan font-size="30.5">nrichments</tspan></text>
<text x="374.5" y="498.6" font-size="43.8" textLength="72.8" lengthAdjust="spacingAndGlyphs" fill="#000" ><tspan font-size="43.8">C</tspan><tspan font-size="27.1">ustom</tspan></text>
<text x="377.8" y="530.5" font-size="29.3" textLength="67.3" lengthAdjust="spacingAndGlyphs" fill="#000" ><tspan font-size="29.3">SQL5</tspan></text>
<text x="248.3" y="677.6" font-size="39.5" textLength="81.1" lengthAdjust="spacingAndGlyphs" fill="#000" ><tspan font-size="39.5">C</tspan><tspan font-size="24.5">ustom</tspan></text>
<text x="248.5" y="715.2" font-size="36.1" textLength="88.4" lengthAdjust="spacingAndGlyphs" fill="#000" ><tspan font-size="36.1">SQL</tspan><tspan font-size="22.4">&#160;</tspan><tspan font-size="36.1">4</tspan></text>
<text x="234.4" y="919.6" font-size="39.5" textLength="75.9" lengthAdjust="spacingAndGlyphs" fill="#000" ><tspan font-size="39.5">C</tspan><tspan font-size="24.5">ustom</tspan></text>
<text x="234.8" y="957.2" font-size="36.1" textLength="70.3" lengthAdjust="spacingAndGlyphs" fill="#000" ><tspan font-size="36.1">SQL</tspan><tspan font-size="22.4">&#160;</tspan><tspan font-size="36.1">3</tspan></text>
<text x="364.1" y="1153.6" font-size="42.4" textLength="90.4" lengthAdjust="spacingAndGlyphs" fill="#000" ><tspan font-size="42.4">C</tspan><tspan font-size="26.3">ustom</tspan></text>
<text x="366.6" y="1184.5" font-size="29.3" textLength="81.9" lengthAdjust="spacingAndGlyphs" fill="#000" ><tspan font-size="29.3">SQL</tspan><tspan font-size="18.2">&#160;</tspan><tspan font-size="29.3">2</tspan></text>
<text x="572.3" y="1248.6" font-size="38.1" textLength="81.1" lengthAdjust="spacingAndGlyphs" fill="#000" ><tspan font-size="38.1">C</tspan><tspan font-size="23.6">ustom</tspan></text>
<text x="576.5" y="1282.5" font-size="29.3" textLength="64.5" lengthAdjust="spacingAndGlyphs" fill="#000" ><tspan font-size="29.3">SQL</tspan></text>
<text x="848.3" y="1248.6" font-size="39.5" textLength="66.5" lengthAdjust="spacingAndGlyphs" fill="#000" ><tspan font-size="39.5">S</tspan><tspan font-size="24.5">ales</tspan></text>
<text x="843.7" y="1291.8" font-size="40.3" textLength="73.2" lengthAdjust="spacingAndGlyphs" fill="#000" ><tspan font-size="40.3">P</tspan><tspan font-size="25.0">lans</tspan></text>
<text x="503.2" y="652.8" font-size="33.1" textLength="61.6" lengthAdjust="spacingAndGlyphs" fill="#000" ><tspan font-size="33.1">P</tspan><tspan font-size="20.5">lans</tspan></text>
<text x="509.9" y="697.0" font-size="27.6" textLength="36.6" lengthAdjust="spacingAndGlyphs" fill="#000" ><tspan font-size="27.6">V1</tspan></text>
<text x="447.7" y="799.7" font-size="28.2" textLength="35.5" lengthAdjust="spacingAndGlyphs" fill="#000" ><tspan font-size="28.2">CS</tspan></text>
<text x="440.2" y="844.8" font-size="37.5" textLength="60.5" lengthAdjust="spacingAndGlyphs" fill="#000" ><tspan font-size="37.5">P</tspan><tspan font-size="23.2">lans</tspan></text>
<text x="479.3" y="985.8" font-size="34.6" textLength="59.4" lengthAdjust="spacingAndGlyphs" fill="#000" ><tspan font-size="34.6">P</tspan><tspan font-size="21.4">lans</tspan></text>
<g transform="translate(487.9,0) scale(1.450,1)"><text x="0" y="1017.0" font-size="21.5" textLength="26.7" lengthAdjust="spacing" fill="#000" ><tspan font-size="21.5">V2</tspan></text></g>
<text x="625.6" y="1045.7" font-size="33.9" textLength="63.7" lengthAdjust="spacingAndGlyphs" fill="#000" ><tspan font-size="33.9">2016</tspan></text>
<text x="628.9" y="1090.8" font-size="38.9" textLength="67.9" lengthAdjust="spacingAndGlyphs" fill="#000" ><tspan font-size="38.9">P</tspan><tspan font-size="24.1">lans</tspan></text>
<text x="611.0" y="839.9" font-size="31.8" textLength="38.5" lengthAdjust="spacingAndGlyphs" fill="#000" ><tspan font-size="31.8">A</tspan><tspan font-size="19.7">pp.</tspan></text>
<text x="607.4" y="873.8" font-size="27.4" textLength="50.6" lengthAdjust="spacingAndGlyphs" fill="#000" ><tspan font-size="27.4">D</tspan><tspan font-size="17.0">ata</tspan></text>
<text x="787.8" y="821.0" font-size="23.0" textLength="61.2" lengthAdjust="spacingAndGlyphs" fill="#000" ><tspan font-size="23.0">O</tspan><tspan font-size="14.2">pscon</tspan></text>
<text x="786.4" y="854.8" font-size="25.9" textLength="49.6" lengthAdjust="spacingAndGlyphs" fill="#000" ><tspan font-size="25.9">D</tspan><tspan font-size="16.1">ata</tspan></text>
<text x="701.1" y="907.8" font-size="21.2" textLength="54.7" lengthAdjust="spacingAndGlyphs" fill="#000" ><tspan font-size="21.2">SFDC</tspan></text>
<text x="698.3" y="944.9" font-size="24.5" textLength="52.7" lengthAdjust="spacingAndGlyphs" fill="#000" ><tspan font-size="24.5">D</tspan><tspan font-size="15.2">ata</tspan></text>
<text x="923.3" y="699.8" font-size="40.3" textLength="59.4" lengthAdjust="spacingAndGlyphs" fill="#000" ><tspan font-size="40.3">P</tspan><tspan font-size="25.0">lans</tspan></text>
<text x="913.9" y="734.8" font-size="28.4" textLength="84.3" lengthAdjust="spacingAndGlyphs" fill="#000" ><tspan font-size="28.4">V2</tspan><tspan font-size="17.6">&#160;</tspan><tspan font-size="28.4">F</tspan><tspan font-size="17.6">inal</tspan></text>
<text x="931.6" y="879.6" font-size="41.0" textLength="57.1" lengthAdjust="spacingAndGlyphs" fill="#000" ><tspan font-size="41.0">S</tspan><tspan font-size="25.4">ales</tspan></text>
<text x="926.1" y="919.8" font-size="38.9" textLength="63.7" lengthAdjust="spacingAndGlyphs" fill="#000" ><tspan font-size="38.9">P</tspan><tspan font-size="24.1">lans</tspan></text>
<text x="849.9" y="1001.8" font-size="30.3" textLength="71.4" lengthAdjust="spacingAndGlyphs" fill="#000" ><tspan font-size="30.3">A</tspan><tspan font-size="18.8">nother</tspan></text>
<text x="864.6" y="1030.8" font-size="27.4" textLength="43.6" lengthAdjust="spacingAndGlyphs" fill="#000" ><tspan font-size="27.4">P</tspan><tspan font-size="17.0">lan</tspan></text>
<text x="849.3" y="1061.8" font-size="27.4" textLength="57.6" lengthAdjust="spacingAndGlyphs" fill="#000" ><tspan font-size="27.4">T</tspan><tspan font-size="17.0">able</tspan></text>
<text x="990.9" y="480.8" font-size="36.0" textLength="74.5" lengthAdjust="spacingAndGlyphs" fill="#000" ><tspan font-size="36.0">A</tspan><tspan font-size="22.3">d-</tspan><tspan font-size="36.0">H</tspan><tspan font-size="22.3">oc</tspan></text>
<text x="987.2" y="527.7" font-size="47.5" textLength="83.9" lengthAdjust="spacingAndGlyphs" fill="#000" ><tspan font-size="47.5">P</tspan><tspan font-size="29.5">lans</tspan></text>
<text x="1118.4" y="689.7" font-size="31.1" textLength="43.0" lengthAdjust="spacingAndGlyphs" fill="#000" ><tspan font-size="31.1">CS</tspan></text>
<text x="1102.7" y="727.8" font-size="37.5" textLength="89.3" lengthAdjust="spacingAndGlyphs" fill="#000" ><tspan font-size="37.5">P</tspan><tspan font-size="23.2">lan&#160;</tspan><tspan font-size="37.5">D</tspan><tspan font-size="23.2">ata</tspan></text>
<text x="1103.2" y="949.7" font-size="35.3" textLength="72.8" lengthAdjust="spacingAndGlyphs" fill="#000" ><tspan font-size="35.3">S</tspan><tspan font-size="21.9">ome</tspan></text>
<text x="1103.3" y="977.7" font-size="32.5" textLength="62.7" lengthAdjust="spacingAndGlyphs" fill="#000" ><tspan font-size="32.5">S</tspan><tspan font-size="20.1">tale</tspan></text>
<text x="1102.9" y="1005.8" font-size="31.7" textLength="60.1" lengthAdjust="spacingAndGlyphs" fill="#000" ><tspan font-size="31.7">D</tspan><tspan font-size="19.7">ata</tspan></text>
<text x="1014.5" y="1115.6" font-size="39.5" textLength="88.8" lengthAdjust="spacingAndGlyphs" fill="#000" ><tspan font-size="39.5">C</tspan><tspan font-size="24.5">ustomer</tspan></text>
<text x="1013.3" y="1153.6" font-size="36.7" textLength="78.2" lengthAdjust="spacingAndGlyphs" fill="#000" ><tspan font-size="36.7">C</tspan><tspan font-size="22.8">entral</tspan></text>
</svg></body></html>
